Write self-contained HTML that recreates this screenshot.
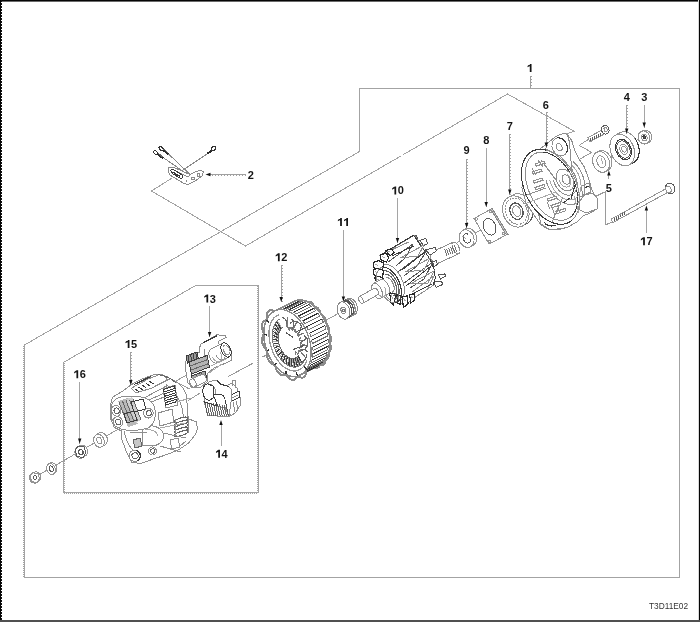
<!DOCTYPE html>
<html><head><meta charset="utf-8"><style>
html,body{margin:0;padding:0;background:#fff;}
body{width:700px;height:622px;overflow:hidden;position:relative;font-family:"Liberation Sans",sans-serif;}
svg{position:absolute;left:0;top:0;display:block;shape-rendering:crispEdges;will-change:transform;}
</style></head><body>
<svg width="700" height="622" viewBox="0 0 700 622">
<rect x="0" y="0" width="700" height="1" fill="#050505"/>
<rect x="0" y="1" width="700" height="1" fill="#6a6a6a"/>
<rect x="0" y="0" width="1" height="622" fill="#050505"/>
<line x1="1.5" y1="0" x2="1.5" y2="622" stroke="#111" stroke-width="1" stroke-dasharray="2 1"/>
<rect x="698" y="0" width="1" height="622" fill="#d8d8d8"/>
<rect x="699" y="0" width="1" height="622" fill="#050505"/>
<rect x="0" y="620" width="700" height="2" fill="#505050"/>
<path d="M359.5,151.5 L359.5,88.5 L679.5,88.5 L679.5,577.5 L24.5,577.5 L24.5,345 Z" fill="none" stroke="#a3a3a3" stroke-width="1" />
<line x1="23.5" y1="346" x2="23.5" y2="577" stroke="#a3a3a3" stroke-width="1" stroke-dasharray="1 1"/>
<path d="M63.5,362.5 L195.5,285.5 L258.5,285.5 L258.5,492.5 L63.5,492.5 Z" fill="none" stroke="#a3a3a3" stroke-width="1" />
<line x1="64.5" y1="363" x2="64.5" y2="492" stroke="#a3a3a3" stroke-width="1" stroke-dasharray="1 1"/>
<line x1="257.5" y1="286" x2="257.5" y2="492" stroke="#a3a3a3" stroke-width="1" stroke-dasharray="1 1"/>
<line x1="64" y1="493.5" x2="258" y2="493.5" stroke="#a3a3a3" stroke-width="1" stroke-dasharray="1 1"/>
<path d="M172,178 L151.5,191 L245.5,246 L400.5,156.2 M403.5,154.5 L507.5,94 L574.3,131.3 L561,135.5" fill="none" stroke="#a3a3a3" stroke-width="1" />
<line x1="30" y1="480" x2="122" y2="427" stroke="#9a9a9a" stroke-width="1" />
<line x1="228.2" y1="376.5" x2="253.3" y2="363" stroke="#9a9a9a" stroke-width="1" />
<line x1="262" y1="357.2" x2="274.5" y2="351.4" stroke="#9a9a9a" stroke-width="1" />
<line x1="326.7" y1="319.9" x2="339" y2="313.1" stroke="#9a9a9a" stroke-width="1" />
<line x1="457" y1="242.5" x2="462" y2="240" stroke="#9a9a9a" stroke-width="1" />
<line x1="475" y1="233" x2="481" y2="230" stroke="#9a9a9a" stroke-width="1" />
<line x1="610.9" y1="157.3" x2="617.7" y2="154.4" stroke="#9a9a9a" stroke-width="1" />
<line x1="637" y1="140" x2="640" y2="138.5" stroke="#9a9a9a" stroke-width="1" />
<line x1="580" y1="145.9" x2="591.4" y2="152.1" stroke="#9a9a9a" stroke-width="1" />
<line x1="580" y1="159" x2="592" y2="152.1" stroke="#9a9a9a" stroke-width="1" />
<line x1="595.3" y1="196.6" x2="605.7" y2="191.5" stroke="#9a9a9a" stroke-width="1" />
<line x1="186.6" y1="375" x2="175.4" y2="381.4" stroke="#9a9a9a" stroke-width="1" />
<line x1="175.4" y1="381.4" x2="189.6" y2="389.1" stroke="#9a9a9a" stroke-width="1" />
<line x1="188.3" y1="400.3" x2="200.3" y2="393" stroke="#9a9a9a" stroke-width="1" />
<line x1="588.4" y1="139.4" x2="578.8" y2="145.6" stroke="#9a9a9a" stroke-width="1" />
<line x1="605.7" y1="191.5" x2="605.7" y2="224.8" stroke="#9a9a9a" stroke-width="1" />
<line x1="605.7" y1="224.8" x2="613" y2="221.5" stroke="#9a9a9a" stroke-width="1" />
<path d="M638.08,136.88 L638.11,136.32 L638.18,135.77 L638.29,135.23 L638.45,134.71 L638.65,134.21 L638.89,133.73 L639.17,133.29 L639.49,132.87 L639.84,132.49 L640.22,132.15 L640.63,131.85 L641.07,131.59 L642.87,130.69 L643.33,130.48 L643.81,130.31 L644.3,130.2 L644.8,130.13 L645.32,130.11 L645.83,130.14 L646.35,130.21 L646.86,130.34 L647.36,130.52 L647.85,130.74 L648.33,131 L648.79,131.31 L649.22,131.66 L649.63,132.04 L650.01,132.47 L650.36,132.92 L650.67,133.4 L650.94,133.9 L651.18,134.43 L651.37,134.97 L651.52,135.52 L651.63,136.09 L651.7,136.65 L651.72,137.22 L651.69,137.78 L651.62,138.33 L651.51,138.87 L651.35,139.39 L651.15,139.89 L650.91,140.37 L650.63,140.81 L650.31,141.23 L649.96,141.61 L649.58,141.95 L649.17,142.25 L648.73,142.51 L646.93,143.41 L646.47,143.62 L645.99,143.78 L645.5,143.9 L645,143.97 L644.48,143.99 L643.97,143.96 L643.45,143.89 L642.94,143.76 L642.44,143.58 L641.95,143.36 L641.47,143.1 L641.01,142.79 L640.58,142.44 L640.17,142.06 L639.79,141.63 L639.45,141.18 L639.13,140.7 L638.86,140.2 L638.62,139.67 L638.43,139.13 L638.27,138.58 L638.17,138.01 L638.1,137.45 Z" fill="#fff" stroke="#949494" stroke-width="1"/>
<ellipse cx="644" cy="137.5" rx="6.6" ry="5.8" transform="rotate(68 644 137.5)" fill="#fff" stroke="#949494" stroke-width="1" />
<ellipse cx="644.2" cy="137.5" rx="3.4" ry="2.9" transform="rotate(68 644.2 137.5)" fill="#fff" stroke="#949494" stroke-width="1" />
<ellipse cx="644.3" cy="137.4" rx="1.6" ry="1.3" transform="rotate(68 644.3 137.4)" fill="#555" stroke="#3a3a3a" stroke-width="1" />
<path d="M609.91,146.16 L609.97,144.84 L610.11,143.56 L610.35,142.32 L610.68,141.15 L611.1,140.04 L611.6,139 L612.19,138.06 L612.85,137.2 L613.58,136.44 L614.38,135.78 L615.24,135.23 L619.74,132.83 L620.66,132.39 L621.62,132.07 L622.62,131.87 L623.65,131.79 L624.71,131.82 L625.78,131.98 L626.86,132.26 L627.94,132.65 L629.01,133.16 L630.06,133.78 L631.09,134.5 L632.09,135.32 L633.04,136.23 L633.95,137.24 L634.8,138.32 L635.6,139.47 L636.33,140.68 L636.98,141.95 L637.55,143.25 L638.05,144.6 L638.46,145.96 L638.78,147.34 L639.01,148.72 L639.14,150.09 L639.19,151.44 L639.13,152.76 L638.99,154.04 L638.75,155.28 L638.42,156.46 L638,157.56 L637.5,158.6 L636.91,159.54 L636.25,160.4 L635.52,161.16 L634.72,161.82 L633.86,162.37 L629.36,164.77 L628.44,165.21 L627.48,165.53 L626.48,165.73 L625.45,165.81 L624.39,165.78 L623.32,165.62 L622.24,165.34 L621.16,164.95 L620.09,164.44 L619.04,163.82 L618.01,163.1 L617.01,162.28 L616.06,161.37 L615.15,160.37 L614.29,159.28 L613.5,158.13 L612.77,156.92 L612.12,155.65 L611.54,154.34 L611.05,153 L610.64,151.64 L610.32,150.26 L610.09,148.88 L609.96,147.51 Z" fill="#fff" stroke="#949494" stroke-width="1"/>
<path d="M634.81,138.32 L636.03,140.17 L637.08,142.16 L637.93,144.26 L638.58,146.42 L638.99,148.6 L639.18,150.77 L639.13,152.87 L638.84,154.87 L638.32,156.74 L637.59,158.43 L636.65,159.91 L635.52,161.16 L634.22,162.15 L632.79,162.87 L631.24,163.29 L629.6,163.41 L627.91,163.24 L626.2,162.76 L624.5,161.99 L622.85,160.95 L621.27,159.66 L619.8,158.14 L618.46,156.41 L617.27,154.52" fill="none" stroke="#3a3a3a" stroke-width="1.1" />
<ellipse cx="622.3" cy="150" rx="16.4" ry="11.6" transform="rotate(68 622.3 150)" fill="#fff" stroke="#949494" stroke-width="1" />
<ellipse cx="623.5" cy="149.5" rx="10.6" ry="7.6" transform="rotate(68 623.5 149.5)" fill="#fff" stroke="#3a3a3a" stroke-width="1" />
<ellipse cx="623.5" cy="149.5" rx="9" ry="6.3" transform="rotate(68 623.5 149.5)" fill="#fff" stroke="#5a5a5a" stroke-width="1" />
<ellipse cx="623.8" cy="149.3" rx="5.2" ry="3.8" transform="rotate(68 623.8 149.3)" fill="#fff" stroke="#949494" stroke-width="1" />
<ellipse cx="624" cy="149.1" rx="3" ry="2.2" transform="rotate(68 624 149.1)" fill="#fff" stroke="#949494" stroke-width="1" />
<path d="M592.53,159.75 L592.59,158.88 L592.72,158.04 L592.92,157.22 L593.17,156.45 L593.49,155.71 L593.86,155.02 L594.29,154.39 L594.77,153.81 L595.3,153.3 L595.87,152.85 L596.48,152.48 L598.58,151.38 L599.23,151.07 L599.91,150.84 L600.61,150.69 L601.33,150.61 L602.07,150.61 L602.81,150.69 L603.56,150.85 L604.31,151.09 L605.04,151.4 L605.77,151.78 L606.47,152.23 L607.15,152.75 L607.8,153.33 L608.41,153.96 L608.99,154.65 L609.52,155.39 L610,156.17 L610.43,156.98 L610.8,157.83 L611.12,158.7 L611.38,159.58 L611.57,160.48 L611.7,161.38 L611.77,162.27 L611.77,163.15 L611.71,164.02 L611.58,164.86 L611.38,165.68 L611.13,166.45 L610.81,167.19 L610.44,167.88 L610.01,168.51 L609.53,169.09 L609,169.6 L608.43,170.04 L607.82,170.42 L605.72,171.52 L605.07,171.83 L604.39,172.06 L603.69,172.21 L602.97,172.29 L602.23,172.29 L601.49,172.21 L600.74,172.05 L599.99,171.81 L599.25,171.5 L598.53,171.12 L597.83,170.67 L597.15,170.15 L596.5,169.57 L595.89,168.94 L595.31,168.25 L594.78,167.51 L594.3,166.73 L593.87,165.92 L593.5,165.07 L593.18,164.2 L592.92,163.32 L592.73,162.42 L592.6,161.53 L592.53,160.63 Z" fill="#fff" stroke="#949494" stroke-width="1"/>
<ellipse cx="601.1" cy="162" rx="10.6" ry="8.2" transform="rotate(68 601.1 162)" fill="#fff" stroke="#949494" stroke-width="1" />
<ellipse cx="601.3" cy="161.8" rx="6.2" ry="4.2" transform="rotate(68 601.3 161.8)" fill="#fff" stroke="#949494" stroke-width="1" />
<line x1="601" y1="158" x2="603" y2="164" stroke="#949494" stroke-width="0.8" />
<path d="M590,141.8 L588,137.6 L602,130 L604.3,134 Z" fill="#fff" stroke="#949494" stroke-width="1" />
<line x1="590.5" y1="138.1" x2="590.9" y2="140.9" stroke="#5a5a5a" stroke-width="1" />
<line x1="592.5" y1="137.05" x2="592.9" y2="139.85" stroke="#5a5a5a" stroke-width="1" />
<line x1="594.5" y1="136" x2="594.9" y2="138.8" stroke="#5a5a5a" stroke-width="1" />
<line x1="596.5" y1="134.95" x2="596.9" y2="137.75" stroke="#5a5a5a" stroke-width="1" />
<line x1="598.5" y1="133.9" x2="598.9" y2="136.7" stroke="#5a5a5a" stroke-width="1" />
<line x1="600.5" y1="132.85" x2="600.9" y2="135.65" stroke="#5a5a5a" stroke-width="1" />
<ellipse cx="605.3" cy="129.8" rx="3.7" ry="4.3" transform="rotate(-20 605.3 129.8)" fill="#fff" stroke="#5a5a5a" stroke-width="1.1" />
<ellipse cx="605.6" cy="129.6" rx="1.6" ry="2" transform="rotate(-20 605.6 129.6)" fill="#fff" stroke="#949494" stroke-width="1" />
<path d="M612.8,222.6 L611.2,219.2 L666,188.6 L668,192.2 Z" fill="#fff" stroke="#949494" stroke-width="1" />
<line x1="614" y1="218.1" x2="614.5" y2="220.9" stroke="#5a5a5a" stroke-width="1" />
<line x1="616.1" y1="216.95" x2="616.6" y2="219.75" stroke="#5a5a5a" stroke-width="1" />
<line x1="618.2" y1="215.8" x2="618.7" y2="218.6" stroke="#5a5a5a" stroke-width="1" />
<line x1="620.3" y1="214.65" x2="620.8" y2="217.45" stroke="#5a5a5a" stroke-width="1" />
<line x1="622.4" y1="213.5" x2="622.9" y2="216.3" stroke="#5a5a5a" stroke-width="1" />
<line x1="624.5" y1="212.35" x2="625" y2="215.15" stroke="#5a5a5a" stroke-width="1" />
<ellipse cx="670.2" cy="188.4" rx="4.6" ry="5.4" transform="rotate(-25 670.2 188.4)" fill="#fff" stroke="#5a5a5a" stroke-width="1.1" />
<ellipse cx="668.5" cy="189.4" rx="2.6" ry="3.4" transform="rotate(-25 668.5 189.4)" fill="#fff" stroke="#949494" stroke-width="1" />
<path d="M502.51,209.58 L502.52,208.24 L502.64,206.92 L502.86,205.64 L503.17,204.4 L503.58,203.22 L504.08,202.1 L504.68,201.05 L505.35,200.08 L506.11,199.2 L506.94,198.41 L507.84,197.72 L508.8,197.14 L512.79,194.94 L513.81,194.47 L514.86,194.1 L515.96,193.86 L517.08,193.73 L518.23,193.72 L519.38,193.83 L520.54,194.06 L521.7,194.4 L522.84,194.85 L523.95,195.42 L525.04,196.09 L526.08,196.86 L527.08,197.73 L528.02,198.69 L528.9,199.72 L529.71,200.83 L530.45,202 L531.1,203.23 L531.67,204.5 L532.14,205.82 L532.53,207.15 L532.82,208.51 L533,209.87 L533.09,211.22 L533.08,212.56 L532.96,213.88 L532.74,215.16 L532.43,216.4 L532.02,217.58 L531.52,218.7 L530.92,219.75 L530.25,220.72 L529.49,221.6 L528.66,222.39 L527.76,223.08 L526.8,223.66 L522.8,225.86 L521.79,226.34 L520.74,226.7 L519.64,226.94 L518.52,227.07 L517.37,227.08 L516.22,226.97 L515.06,226.75 L513.9,226.4 L512.76,225.95 L511.65,225.38 L510.56,224.71 L509.52,223.94 L508.52,223.07 L507.58,222.12 L506.7,221.08 L505.89,219.97 L505.15,218.8 L504.5,217.57 L503.93,216.29 L503.45,214.98 L503.07,213.65 L502.79,212.29 L502.6,210.93 Z" fill="#fff" stroke="#949494" stroke-width="1"/>
<path d="M528.9,199.72 L530.15,201.51 L531.2,203.44 L532.03,205.49 L532.63,207.6 L532.99,209.75 L533.09,211.9 L532.95,213.99 L532.55,215.99 L531.9,217.87 L531.03,219.58 L529.94,221.1 L528.66,222.39 L527.21,223.43 L525.62,224.2 L523.92,224.69 L522.14,224.89 L520.31,224.79 L518.48,224.39 L516.67,223.7 L514.92,222.74 L513.26,221.53 L511.73,220.08 L510.35,218.43 L509.15,216.6" fill="none" stroke="#5a5a5a" stroke-width="1.1" />
<ellipse cx="515.8" cy="211.5" rx="16" ry="12.8" transform="rotate(68 515.8 211.5)" fill="#fff" stroke="#949494" stroke-width="1" />
<ellipse cx="516.3" cy="211.2" rx="13.5" ry="10.6" transform="rotate(68 516.3 211.2)" fill="#fff" stroke="#949494" stroke-width="1" stroke-dasharray="2 1"/>
<ellipse cx="516.5" cy="211.2" rx="8.4" ry="6.4" transform="rotate(68 516.5 211.2)" fill="#fff" stroke="#5a5a5a" stroke-width="1.3" />
<ellipse cx="516.7" cy="211" rx="5.4" ry="4" transform="rotate(68 516.7 211)" fill="#fff" stroke="#949494" stroke-width="1" />
<path d="M474,218.5 L490.7,209.2 L506.4,234.9 L489,244 Z" fill="#fff" stroke="#949494" stroke-width="1" />
<path d="M490.7,209.2 L492.2,208.6 L508,234.3 L506.4,234.9 Z" fill="#ccc" stroke="#888" stroke-width="1" />
<ellipse cx="489.6" cy="226.8" rx="8.6" ry="6" transform="rotate(68 489.6 226.8)" fill="#fff" stroke="#5a5a5a" stroke-width="1" />
<ellipse cx="476.5" cy="219" rx="1.1" ry="1.1" transform="rotate(0 476.5 219)" fill="#fff" stroke="#949494" stroke-width="1" />
<ellipse cx="490.5" cy="211.5" rx="1.1" ry="1.1" transform="rotate(0 490.5 211.5)" fill="#fff" stroke="#949494" stroke-width="1" />
<ellipse cx="503.5" cy="233.5" rx="1.1" ry="1.1" transform="rotate(0 503.5 233.5)" fill="#fff" stroke="#949494" stroke-width="1" />
<ellipse cx="489.5" cy="241.5" rx="1.1" ry="1.1" transform="rotate(0 489.5 241.5)" fill="#fff" stroke="#949494" stroke-width="1" />
<path d="M459.04,237.55 L459.05,236.8 L459.12,236.05 L459.25,235.33 L459.43,234.63 L459.67,233.97 L459.96,233.33 L460.3,232.74 L460.68,232.19 L461.12,231.69 L461.59,231.25 L462.1,230.86 L462.65,230.53 L465.05,229.12 L465.63,228.85 L466.23,228.65 L466.86,228.51 L467.5,228.43 L468.15,228.42 L468.81,228.48 L469.46,228.61 L470.12,228.8 L470.77,229.05 L471.4,229.37 L472.02,229.74 L472.61,230.17 L473.18,230.66 L473.71,231.19 L474.21,231.78 L474.67,232.4 L475.08,233.06 L475.45,233.75 L475.77,234.47 L476.04,235.2 L476.25,235.96 L476.41,236.72 L476.51,237.48 L476.56,238.25 L476.55,239 L476.48,239.75 L476.35,240.47 L476.17,241.17 L475.93,241.84 L475.64,242.47 L475.3,243.06 L474.92,243.61 L474.48,244.11 L474.01,244.55 L473.5,244.94 L472.95,245.28 L470.55,246.68 L469.97,246.94 L469.37,247.15 L468.75,247.29 L468.11,247.37 L467.45,247.38 L466.8,247.32 L466.14,247.19 L465.48,247 L464.83,246.75 L464.2,246.43 L463.58,246.06 L462.99,245.63 L462.42,245.14 L461.89,244.6 L461.39,244.02 L460.94,243.4 L460.52,242.74 L460.15,242.05 L459.83,241.34 L459.56,240.6 L459.35,239.84 L459.19,239.08 L459.09,238.32 Z" fill="#fff" stroke="#949494" stroke-width="1"/>
<ellipse cx="466.6" cy="238.6" rx="9" ry="7.3" transform="rotate(68 466.6 238.6)" fill="#fff" stroke="#949494" stroke-width="1" />
<path d="M470.79,239.46 L470.68,240.38 L470.41,241.22 L469.99,241.93 L469.44,242.49 L468.77,242.86 L468.03,243.04 L467.25,243.01 L466.45,242.78 L465.68,242.35 L464.96,241.75 L464.34,241 L463.83,240.13 L463.47,239.19 L463.26,238.21 L463.21,237.24 L463.34,236.33 L463.63,235.5 L464.06,234.8 L464.63,234.27 L465.3,233.91 L466.05,233.76 L466.84,233.81 L467.63,234.06 L468.4,234.51" fill="none" stroke="#5a5a5a" stroke-width="1" />
<line x1="462" y1="236" x2="466" y2="238.5" stroke="#949494" stroke-width="0.8" />
<path d="M29.51,477.52 L29.53,477.08 L29.59,476.65 L29.68,476.22 L29.81,475.81 L29.97,475.41 L30.16,475.04 L30.38,474.69 L30.63,474.36 L30.91,474.06 L31.21,473.79 L31.54,473.55 L31.89,473.35 L33.69,472.35 L34.05,472.18 L34.43,472.05 L34.82,471.95 L35.22,471.9 L35.63,471.88 L36.04,471.9 L36.45,471.96 L36.85,472.06 L37.25,472.2 L37.64,472.37 L38.02,472.58 L38.38,472.82 L38.72,473.1 L39.04,473.4 L39.34,473.73 L39.62,474.09 L39.86,474.47 L40.08,474.86 L40.27,475.28 L40.42,475.7 L40.54,476.14 L40.62,476.58 L40.67,477.03 L40.69,477.48 L40.67,477.92 L40.61,478.35 L40.52,478.78 L40.39,479.19 L40.23,479.59 L40.04,479.96 L39.82,480.31 L39.57,480.64 L39.29,480.94 L38.98,481.21 L38.66,481.45 L38.31,481.65 L36.51,482.65 L36.15,482.82 L35.77,482.95 L35.38,483.05 L34.98,483.1 L34.57,483.12 L34.16,483.1 L33.75,483.04 L33.35,482.94 L32.95,482.8 L32.56,482.63 L32.19,482.42 L31.82,482.18 L31.48,481.9 L31.16,481.6 L30.86,481.27 L30.58,480.91 L30.34,480.53 L30.12,480.14 L29.93,479.72 L29.78,479.3 L29.66,478.86 L29.58,478.42 L29.53,477.97 Z" fill="#fff" stroke="#949494" stroke-width="1"/>
<path d="M30,475.5 L33,472.8 L38,473.5 L39.5,479 L36.5,482.5 L31.5,481.5 Z" fill="#fff" stroke="#949494" stroke-width="1" />
<ellipse cx="35" cy="477.6" rx="2" ry="1.7" transform="rotate(68 35 477.6)" fill="#fff" stroke="#5a5a5a" stroke-width="1" />
<path d="M46.58,467.77 L46.61,467.31 L46.67,466.87 L46.76,466.44 L46.89,466.03 L47.05,465.65 L47.24,465.29 L47.45,464.96 L47.7,464.66 L47.97,464.39 L48.26,464.16 L49.76,463.16 L50.07,462.96 L50.4,462.81 L50.75,462.69 L51.11,462.61 L51.48,462.58 L51.86,462.58 L52.24,462.63 L52.63,462.72 L53.02,462.84 L53.4,463.01 L53.77,463.22 L54.13,463.46 L54.49,463.73 L54.82,464.04 L55.14,464.38 L55.44,464.75 L55.72,465.14 L55.97,465.55 L56.2,465.98 L56.39,466.43 L56.56,466.88 L56.7,467.35 L56.8,467.82 L56.88,468.3 L56.92,468.77 L56.92,469.23 L56.89,469.69 L56.83,470.13 L56.74,470.56 L56.61,470.97 L56.45,471.35 L56.26,471.71 L56.05,472.04 L55.8,472.34 L55.53,472.61 L55.24,472.84 L53.74,473.84 L53.43,474.04 L53.1,474.19 L52.75,474.31 L52.39,474.39 L52.02,474.42 L51.64,474.42 L51.26,474.37 L50.87,474.28 L50.48,474.16 L50.1,473.99 L49.73,473.78 L49.37,473.54 L49.01,473.27 L48.68,472.96 L48.36,472.62 L48.06,472.25 L47.78,471.86 L47.53,471.45 L47.3,471.02 L47.11,470.57 L46.94,470.12 L46.8,469.65 L46.7,469.18 L46.62,468.7 L46.58,468.23 Z" fill="#fff" stroke="#949494" stroke-width="1"/>
<ellipse cx="51" cy="469" rx="5.6" ry="4.2" transform="rotate(68 51 469)" fill="#fff" stroke="#949494" stroke-width="1" />
<ellipse cx="51.3" cy="468.8" rx="3" ry="2" transform="rotate(68 51.3 468.8)" fill="#fff" stroke="#5a5a5a" stroke-width="1" />
<path d="M74.88,451.93 L74.9,451.43 L74.96,450.95 L75.05,450.48 L75.19,450.02 L75.36,449.58 L75.56,449.17 L75.8,448.78 L76.07,448.42 L76.37,448.09 L76.7,447.79 L77.06,447.53 L79.56,446.03 L79.93,445.81 L80.33,445.62 L80.74,445.48 L81.17,445.38 L81.6,445.32 L82.04,445.31 L82.49,445.33 L82.94,445.41 L83.38,445.52 L83.82,445.68 L84.24,445.87 L84.66,446.11 L85.05,446.38 L85.43,446.69 L85.78,447.03 L86.11,447.4 L86.42,447.8 L86.69,448.22 L86.93,448.67 L87.14,449.13 L87.31,449.6 L87.44,450.09 L87.54,450.58 L87.6,451.08 L87.62,451.57 L87.6,452.07 L87.54,452.55 L87.45,453.02 L87.31,453.48 L87.14,453.92 L86.94,454.33 L86.7,454.72 L86.43,455.08 L86.13,455.41 L85.8,455.71 L85.44,455.97 L82.94,457.47 L82.57,457.69 L82.17,457.88 L81.76,458.02 L81.33,458.12 L80.9,458.18 L80.46,458.19 L80.01,458.17 L79.56,458.09 L79.12,457.98 L78.68,457.82 L78.26,457.63 L77.84,457.39 L77.45,457.12 L77.07,456.81 L76.72,456.47 L76.39,456.1 L76.08,455.7 L75.81,455.28 L75.57,454.83 L75.36,454.37 L75.19,453.9 L75.06,453.41 L74.96,452.92 L74.9,452.42 Z" fill="#fff" stroke="#949494" stroke-width="1"/>
<path d="M75,450 L78,446.5 L84,447 L86,452.8 L83,457.5 L77,456.6 Z" fill="#fff" stroke="#5a5a5a" stroke-width="1" />
<ellipse cx="80.8" cy="452" rx="2.6" ry="2.2" transform="rotate(68 80.8 452)" fill="#fff" stroke="#5a5a5a" stroke-width="1.2" />
<path d="M93.58,439.98 L93.59,439.43 L93.63,438.89 L93.72,438.36 L93.84,437.85 L94.01,437.36 L94.21,436.9 L94.45,436.47 L94.72,436.08 L95.03,435.72 L95.36,435.39 L95.73,435.11 L96.12,434.87 L99.12,433.07 L99.53,432.88 L99.96,432.73 L100.4,432.63 L100.86,432.58 L101.33,432.58 L101.8,432.63 L102.27,432.73 L102.74,432.87 L103.2,433.06 L103.66,433.3 L104.1,433.57 L104.53,433.89 L104.94,434.25 L105.33,434.65 L105.69,435.08 L106.02,435.54 L106.32,436.02 L106.59,436.53 L106.82,437.05 L107.02,437.59 L107.18,438.14 L107.3,438.7 L107.38,439.26 L107.42,439.82 L107.41,440.37 L107.37,440.91 L107.28,441.44 L107.16,441.95 L106.99,442.44 L106.79,442.89 L106.55,443.33 L106.28,443.72 L105.97,444.08 L105.64,444.41 L105.27,444.69 L104.88,444.93 L101.88,446.73 L101.47,446.92 L101.04,447.07 L100.6,447.17 L100.14,447.21 L99.67,447.22 L99.2,447.17 L98.73,447.07 L98.26,446.93 L97.8,446.74 L97.34,446.5 L96.9,446.23 L96.47,445.91 L96.06,445.55 L95.67,445.15 L95.31,444.72 L94.98,444.26 L94.68,443.78 L94.41,443.27 L94.18,442.75 L93.98,442.21 L93.82,441.66 L93.7,441.1 L93.62,440.54 Z" fill="#fff" stroke="#949494" stroke-width="1"/>
<ellipse cx="99" cy="440.8" rx="6.6" ry="5.2" transform="rotate(68 99 440.8)" fill="#fff" stroke="#949494" stroke-width="1" />
<ellipse cx="99.3" cy="440.6" rx="3.4" ry="2.4" transform="rotate(68 99.3 440.6)" fill="#fff" stroke="#949494" stroke-width="1" />
<path d="M545,145 L555.7,136.6 L563.7,133.1 L567.1,134.3 L571.7,140.6 L575.1,150.9 L579.7,160 L584.3,166.9 L587.7,176 L592.3,190.9 L596,197 L597,209 L590,213 L583,216 L577,222 L568,227 L561,229 L550,230 L541,225 L534,215 L526,203 L522,188 L522.5,173.7 L527,162 L535,153 Z" fill="#fff" stroke="#8e8e8e" stroke-width="1" />
<path d="M579.7,196.6 L592,193 L597,198 L597,209 L586,213 L580,210 Z" fill="#fff" stroke="#8e8e8e" stroke-width="1" />
<path d="M581,186 L589,183 L591,192 L583,195 Z" fill="#fff" stroke="#8e8e8e" stroke-width="1" />
<path d="M584,188 L589,186" fill="none" stroke="#3c3c3c" stroke-width="1.2" />
<path d="M538.6,213.7 L540.9,224 L550,229.7 L561.4,228.6" fill="none" stroke="#8e8e8e" stroke-width="1" />
<path d="M544,222 C546,226 552,227 556,225" fill="none" stroke="#3c3c3c" stroke-width="1.1" />
<ellipse cx="550.5" cy="186.8" rx="40" ry="25.5" transform="rotate(63 550.5 186.8)" fill="#fff" stroke="none" stroke-width="1" />
<path d="M572.33,219.89 L570.39,221.42 L568.26,222.64 L565.97,223.52 L563.54,224.07 L560.99,224.27 L558.34,224.13 L555.62,223.65 L552.85,222.82 L550.06,221.66 L547.27,220.19 L544.52,218.4 L541.82,216.33 L539.2,213.98 L536.68,211.38 L534.29,208.56 L532.05,205.53 L529.98,202.34 L528.1,199 L526.42,195.54 L524.97,192.01 L523.75,188.43 L522.78,184.84 L522.06,181.26 L521.61,177.73 L521.42,174.29 L521.5,170.96 L521.84,167.78 L522.45,164.77 L523.32,161.97 L524.44,159.39 L525.8,157.07 L527.38,155.02 L529.18,153.26 L531.18,151.81 L533.35,150.69 L535.68,149.9 L538.15,149.44 L540.73,149.33 L543.4,149.57 L546.13,150.15" fill="none" stroke="#3c3c3c" stroke-width="1.1" />
<path d="M546.13,150.15 L548.49,150.9 L550.86,151.9 L553.22,153.12 L555.57,154.57 L557.88,156.23 L560.15,158.1 L562.35,160.15 L564.47,162.38 L566.5,164.78 L568.42,167.32 L570.22,169.98 L571.9,172.77 L573.43,175.64 L574.81,178.59 L576.03,181.59 L577.08,184.62 L577.95,187.68 L578.64,190.72 L579.15,193.74 L579.46,196.71 L579.58,199.62 L579.51,202.44 L579.25,205.16 L578.8,207.76 L578.16,210.22 L577.33,212.52 L576.33,214.65 L575.16,216.6 L573.82,218.35 L572.33,219.89" fill="none" stroke="#8e8e8e" stroke-width="1" />
<path d="M571.33,216.44 L569.69,217.76 L567.89,218.81 L565.96,219.59 L563.91,220.09 L561.75,220.31 L559.5,220.24 L557.19,219.88 L554.83,219.24 L552.45,218.33 L550.05,217.14 L547.67,215.69 L545.32,214 L543.02,212.08 L540.79,209.93 L538.66,207.59 L536.63,205.07 L534.72,202.39 L532.96,199.58 L531.35,196.65 L529.91,193.63 L528.65,190.55 L527.58,187.44 L526.72,184.31 L526.06,181.21 L525.61,178.14 L525.38,175.14 L525.38,172.23 L525.59,169.44 L526.02,166.79 L526.66,164.31 L527.51,162.01 L528.56,159.91 L529.8,158.03 L531.23,156.39 L532.83,154.99 L534.58,153.86 L536.47,153 L538.49,152.42 L540.62,152.13 L542.85,152.11" fill="none" stroke="#8e8e8e" stroke-width="1" />
<path d="M542.85,152.11 L545.03,152.37 L547.26,152.88 L549.53,153.65 L551.81,154.66 L554.08,155.92 L556.34,157.4 L558.56,159.1 L560.73,161.01 L562.83,163.12 L564.84,165.39 L566.75,167.83 L568.54,170.4 L570.2,173.1 L571.73,175.89 L573.09,178.77 L574.3,181.7 L575.33,184.66 L576.17,187.64 L576.83,190.6 L577.3,193.54 L577.57,196.41 L577.65,199.21 L577.52,201.91 L577.19,204.49 L576.67,206.93 L575.96,209.21 L575.07,211.32 L573.99,213.24 L572.74,214.95 L571.33,216.44" fill="none" stroke="#3c3c3c" stroke-width="1" />
<path d="M572.99,161.34 L575.35,163.64 L577.53,166.23 L579.48,169.07 L581.17,172.1 L582.58,175.27 L583.67,178.53 L584.43,181.81 L584.84,185.07 L584.89,188.23 L584.59,191.24 L583.94,194.06 L582.95,196.62 L581.64,198.88 L580.03,200.81 L578.16,202.37 L576.04,203.52 L573.74,204.26 L571.27,204.56 L568.69,204.42 L566.05,203.85 L563.39,202.84 L560.75,201.44 L558.2,199.64 L555.76,197.5 L553.49,195.04 L551.42,192.32 L549.6,189.37 L548.05,186.26 L546.81,183.03 L545.89,179.76" fill="none" stroke="#8e8e8e" stroke-width="1" />
<path d="M571.42,164.94 L573.33,166.8 L575.08,168.89 L576.66,171.19 L578.03,173.64 L579.16,176.2 L580.05,178.83 L580.66,181.48 L580.99,184.11 L581.04,186.66 L580.8,189.09 L580.28,191.36 L579.48,193.43 L578.43,195.26 L577.13,196.81 L575.62,198.07 L573.92,199 L572.06,199.59 L570.07,199.83 L568,199.72 L565.87,199.25 L563.72,198.44 L561.6,197.3 L559.53,195.85 L557.57,194.12 L555.73,192.13 L554.07,189.93 L552.6,187.55 L551.35,185.04 L550.34,182.43 L549.6,179.79" fill="none" stroke="#a8a8a8" stroke-width="1" />
<path d="M569.86,168.55 L571.31,169.96 L572.64,171.56 L573.84,173.31 L574.88,175.17 L575.75,177.12 L576.42,179.13 L576.89,181.15 L577.15,183.15 L577.19,185.09 L577.01,186.94 L576.62,188.67 L576.01,190.24 L575.22,191.63 L574.24,192.81 L573.09,193.77 L571.8,194.47 L570.39,194.92 L568.88,195.1 L567.3,195.01 L565.68,194.65 L564.05,194.04 L562.44,193.17 L560.87,192.06 L559.38,190.74 L557.98,189.22 L556.71,187.55 L555.59,185.73 L554.64,183.82 L553.87,181.83 L553.31,179.82" fill="none" stroke="#8e8e8e" stroke-width="1" />
<path d="M568.56,171.73 L569.61,172.75 L570.57,173.89 L571.44,175.15 L572.19,176.49 L572.81,177.89 L573.29,179.33 L573.62,180.79 L573.8,182.23 L573.83,183.63 L573.69,184.96 L573.4,186.21 L572.96,187.34 L572.37,188.35 L571.66,189.2 L570.82,189.89 L569.88,190.4 L568.86,190.73 L567.76,190.87 L566.62,190.81 L565.45,190.56 L564.26,190.12 L563.1,189.49 L561.96,188.7 L560.88,187.76 L559.88,186.67 L558.96,185.47 L558.15,184.16 L557.47,182.79 L556.92,181.36 L556.52,179.91" fill="none" stroke="#8e8e8e" stroke-width="1" />
<path d="M567.46,174.54 L568.16,175.19 L568.79,175.94 L569.36,176.75 L569.85,177.63 L570.25,178.54 L570.56,179.49 L570.77,180.44 L570.88,181.38 L570.88,182.3 L570.78,183.18 L570.57,184 L570.27,184.75 L569.86,185.41 L569.38,185.98 L568.81,186.44 L568.18,186.79 L567.49,187.01 L566.75,187.11 L565.98,187.09 L565.2,186.93 L564.41,186.65 L563.64,186.25 L562.88,185.74 L562.17,185.13 L561.5,184.43 L560.9,183.65 L560.37,182.8 L559.93,181.9 L559.57,180.97 L559.31,180.02" fill="none" stroke="#a8a8a8" stroke-width="1" />
<path d="M556.52,179.91 L556.32,178.88 L556.2,177.87 L556.16,176.87 L556.2,175.9 L556.32,174.97 L556.52,174.08 L556.79,173.25 L557.14,172.47 L557.55,171.77 L558.03,171.13 L558.58,170.58 L559.18,170.11 L559.83,169.73 L560.53,169.44 L561.27,169.24 L562.04,169.14 L562.84,169.14 L563.66,169.23 L564.49,169.42 L565.33,169.71 L566.16,170.09 L566.98,170.55 L567.78,171.1 L568.56,171.73" fill="none" stroke="#8e8e8e" stroke-width="1" />
<path d="M568.27,183.96 L567.36,184.23 L566.36,184.18 L565.34,183.81 L564.36,183.14 L563.49,182.23 L562.79,181.13 L562.31,179.93 L562.09,178.69 L562.13,177.51 L562.43,176.46 L562.98,175.62 L563.73,175.04 L564.64,174.77 L565.64,174.82 L566.66,175.19 L567.64,175.86 L568.51,176.77 L569.21,177.87 L569.69,179.07 L569.91,180.31 L569.87,181.49 L569.57,182.54 L569.02,183.38 L568.27,183.96" fill="none" stroke="#8e8e8e" stroke-width="1" />
<line x1="524" y1="196" x2="546" y2="188" stroke="#8e8e8e" stroke-width="1" />
<line x1="527" y1="203" x2="556" y2="192" stroke="#a8a8a8" stroke-width="1" />
<line x1="541" y1="160" x2="556" y2="180" stroke="#8e8e8e" stroke-width="1" />
<line x1="563" y1="197" x2="552" y2="222" stroke="#8e8e8e" stroke-width="1" />
<line x1="574" y1="196" x2="579" y2="213" stroke="#a8a8a8" stroke-width="1" />
<path d="M547,199 l9,-3 l1,2.2 l-9,3 z" fill="#fff" stroke="#8e8e8e" stroke-width="1" />
<path d="M551,205.5 l9,-3 l1,2.2 l-9,3 z" fill="#fff" stroke="#8e8e8e" stroke-width="1" />
<path d="M556,211.5 l9,-3 l1,2.2 l-9,3 z" fill="#fff" stroke="#8e8e8e" stroke-width="1" />
<path d="M533,181 l9,-3 l1,2.2 l-9,3 z" fill="#fff" stroke="#8e8e8e" stroke-width="1" />
<path d="M535,187.5 l9,-3 l1,2.2 l-9,3 z" fill="#fff" stroke="#8e8e8e" stroke-width="1" />
<path d="M535,164 l9,-3 l1,2.2 l-9,3 z" fill="#fff" stroke="#8e8e8e" stroke-width="1" />
<path d="M532,172 l9,-3 l1,2.2 l-9,3 z" fill="#fff" stroke="#8e8e8e" stroke-width="1" />
<path d="M547,202 L550,209 M552,208 L555,215 M557,205 L560,212" fill="none" stroke="#8e8e8e" stroke-width="1" />
<path d="M532,168 L536,175 M538,160 L543,167" fill="none" stroke="#8e8e8e" stroke-width="1" />
<line x1="575" y1="185" x2="571" y2="199" stroke="#3c3c3c" stroke-width="1.2" />
<line x1="570" y1="198" x2="563" y2="203" stroke="#3c3c3c" stroke-width="1" />
<path d="M567.1,134.3 L569.4,141.7 L570.6,156.6 L571.7,169.1" fill="none" stroke="#8e8e8e" stroke-width="1" />
<path d="M545.4,148.6 L560,156 L572.9,170.3" fill="none" stroke="#8e8e8e" stroke-width="1" />
<ellipse cx="559.7" cy="146.9" rx="7.4" ry="9.4" transform="rotate(-25 559.7 146.9)" fill="#fff" stroke="#8e8e8e" stroke-width="1" />
<path d="M556.95,137.97 L557.71,137.85 L558.48,137.83 L559.27,137.9 L560.07,138.06 L560.86,138.32 L561.63,138.66 L562.39,139.09 L563.12,139.61 L563.81,140.19 L564.47,140.85 L565.07,141.57 L565.61,142.34 L566.1,143.16 L566.52,144.02 L566.87,144.91 L567.14,145.82 L567.34,146.74 L567.46,147.67 L567.49,148.58 L567.45,149.48 L567.33,150.35 L567.13,151.19 L566.85,151.98 L566.49,152.71" fill="none" stroke="#3c3c3c" stroke-width="1.2" />
<ellipse cx="559.2" cy="147.2" rx="2.8" ry="3.8" transform="rotate(-25 559.2 147.2)" fill="#fff" stroke="#8e8e8e" stroke-width="1" />
<path d="M430.17,254.79 L430.18,254.37 L430.23,253.98 L430.3,253.61 L430.4,253.28 L430.53,252.98 L430.68,252.72 L430.86,252.51 L431.07,252.33 L431.3,252.2 L453.3,242.2 L453.54,242.11 L453.81,242.07 L454.09,242.07 L454.39,242.12 L454.7,242.21 L455.02,242.34 L455.34,242.52 L455.68,242.74 L456.01,243 L456.34,243.3 L456.68,243.63 L457,244 L457.32,244.4 L457.63,244.82 L457.93,245.27 L458.21,245.74 L458.47,246.23 L458.72,246.73 L458.94,247.24 L459.15,247.76 L459.33,248.28 L459.48,248.79 L459.61,249.3 L459.71,249.8 L459.78,250.29 L459.82,250.76 L459.83,251.21 L459.82,251.63 L459.77,252.02 L459.7,252.39 L459.6,252.72 L459.47,253.02 L459.32,253.28 L459.14,253.49 L458.93,253.67 L458.7,253.8 L436.7,263.8 L436.46,263.89 L436.19,263.93 L435.91,263.93 L435.61,263.88 L435.3,263.79 L434.98,263.66 L434.66,263.48 L434.32,263.26 L433.99,263 L433.66,262.7 L433.32,262.37 L433,262 L432.68,261.6 L432.37,261.18 L432.07,260.73 L431.79,260.26 L431.53,259.77 L431.28,259.27 L431.06,258.76 L430.85,258.24 L430.67,257.72 L430.52,257.21 L430.39,256.7 L430.29,256.2 L430.22,255.71 L430.18,255.24 Z" fill="#fff" stroke="#8e8e8e" stroke-width="1"/>
<ellipse cx="456" cy="248" rx="6.4" ry="3" transform="rotate(65 456 248)" fill="#fff" stroke="#8e8e8e" stroke-width="1" />
<line x1="444.8" y1="249.4" x2="447.2" y2="256.2" stroke="#666" stroke-width="0.9" />
<line x1="446.7" y1="248.5" x2="449.1" y2="255.3" stroke="#666" stroke-width="0.9" />
<line x1="448.6" y1="247.6" x2="451" y2="254.4" stroke="#666" stroke-width="0.9" />
<line x1="450.5" y1="246.7" x2="452.9" y2="253.5" stroke="#666" stroke-width="0.9" />
<line x1="452.4" y1="245.8" x2="454.8" y2="252.6" stroke="#666" stroke-width="0.9" />
<line x1="454.3" y1="244.9" x2="456.7" y2="251.7" stroke="#666" stroke-width="0.9" />
<path d="M413.4,236.3 L416.5,235.2 L418.6,241.5 Z" fill="#fff" stroke="#555" stroke-width="1" />
<path d="M419.6,240.5 L425.9,238.4 L427.5,243.6 L423.8,245.7 Z" fill="#fff" stroke="#555" stroke-width="1" />
<path d="M425.9,249.9 L435.3,247.3 L436.4,250.9 L430.1,255.1 Z" fill="#fff" stroke="#555" stroke-width="1" />
<path d="M432.2,261.4 L436.4,260.8 L437.4,264.5 L434.3,266.6 Z" fill="#fff" stroke="#555" stroke-width="1" />
<path d="M438.5,275 L444.7,273.9 L445.8,276 L440.5,279.1 Z" fill="#fff" stroke="#555" stroke-width="1" />
<path d="M433.2,282.3 L441.6,281.2 L442.6,284.4 L436.4,287.5 Z" fill="#fff" stroke="#555" stroke-width="1" />
<path d="M380,255.6 L414.3,235.2 L418,240 L423.8,249.9 L430.1,259.3 L434.3,269.7 L435.3,278.1 L433.2,285.4 L413.9,298.1 L405,305 L392,300 Z" fill="#fff" stroke="#8e8e8e" stroke-width="1" />
<line x1="380.5" y1="255" x2="414" y2="235" stroke="#3c3c3c" stroke-width="1.1" />
<line x1="390" y1="250.6" x2="408.6" y2="242" stroke="#8e8e8e" stroke-width="1" />
<path d="M414.4,236.3 L423.8,249.9 L430.1,259.3 L434.3,269.7 L435.3,278.1 L433.2,285.4" fill="none" stroke="#3c3c3c" stroke-width="1" />
<path d="M388,262 L413,244 L405,258 L396,266" fill="none" stroke="#555" stroke-width="1" />
<path d="M392,256 L414,246" fill="none" stroke="#3c3c3c" stroke-width="1" />
<path d="M398,272 L427,250 L417,266 L404,276" fill="none" stroke="#555" stroke-width="1" />
<path d="M402,270 L425,252" fill="none" stroke="#3c3c3c" stroke-width="1" />
<path d="M404,283 L433,262 L424,279 L410,288" fill="none" stroke="#555" stroke-width="1" />
<path d="M406,286 L431,266" fill="none" stroke="#3c3c3c" stroke-width="1" />
<path d="M412,292 L434,276 L427,290" fill="none" stroke="#8e8e8e" stroke-width="1" />
<path d="M424,245 L400,258 L418,256 Z" fill="none" stroke="#8e8e8e" stroke-width="1" />
<path d="M430,258 L405,272 L424,270 Z" fill="none" stroke="#8e8e8e" stroke-width="1" />
<path d="M434,271 L410,284 L428,283 Z" fill="none" stroke="#8e8e8e" stroke-width="1" />
<path d="M414,293 L432,284" fill="none" stroke="#3c3c3c" stroke-width="1" />
<ellipse cx="391" cy="283" rx="20" ry="11.5" transform="rotate(65 391 283)" fill="#fff" stroke="#8e8e8e" stroke-width="1" />
<path d="M380.4,255.1 L386.2,253.2 L388.8,257.6 L386.5,262 L381.1,260 Z" fill="#fff" stroke="#2a2a2a" stroke-width="1.2" />
<line x1="381.9" y1="256.6" x2="384.6" y2="257.58" stroke="#a8a8a8" stroke-width="1" />
<path d="M373.4,262.5 L378.5,260.5 L383.4,263 L382.7,270 L377.5,270.5 L373.4,267 Z" fill="#fff" stroke="#2a2a2a" stroke-width="1.2" />
<line x1="374.9" y1="264" x2="378.15" y2="265.58" stroke="#a8a8a8" stroke-width="1" />
<path d="M373.4,269.7 L377.3,268.2 L383.4,270.5 L382.7,277.4 L378,278.2 L373.4,273.6 Z" fill="#fff" stroke="#2a2a2a" stroke-width="1.2" />
<line x1="374.9" y1="271.2" x2="378.03" y2="272.93" stroke="#a8a8a8" stroke-width="1" />
<path d="M374.5,277.5 L379,276 L383.5,279 L382,284 L377,283.5 Z" fill="#fff" stroke="#2a2a2a" stroke-width="1.2" />
<line x1="376" y1="279" x2="379.2" y2="280" stroke="#a8a8a8" stroke-width="1" />
<path d="M389.6,292.9 L395.8,294.4 L393.5,305.2 L391.1,302.9 Z" fill="#fff" stroke="#2a2a2a" stroke-width="1.2" />
<line x1="391.1" y1="294.4" x2="392.5" y2="298.85" stroke="#a8a8a8" stroke-width="1" />
<path d="M397,295 L401,295.5 L400.5,304.5 L397.5,303 Z" fill="#fff" stroke="#2a2a2a" stroke-width="1.2" />
<line x1="398.5" y1="296.5" x2="399" y2="299.5" stroke="#a8a8a8" stroke-width="1" />
<path d="M402,296.7 L407.4,296 L408.1,303.7 L403.5,307.5 Z" fill="#fff" stroke="#2a2a2a" stroke-width="1.2" />
<line x1="403.5" y1="298.2" x2="405.25" y2="300.98" stroke="#a8a8a8" stroke-width="1" />
<path d="M409.5,295 L414,293.5 L414.5,300 L411,303 Z" fill="#fff" stroke="#2a2a2a" stroke-width="1.2" />
<line x1="411" y1="296.5" x2="412.25" y2="297.88" stroke="#a8a8a8" stroke-width="1" />
<path d="M386,250.5 L391.5,248.8 L394,252.5 L390,256 Z" fill="#fff" stroke="#2a2a2a" stroke-width="1.2" />
<line x1="387.5" y1="252" x2="390.38" y2="251.95" stroke="#a8a8a8" stroke-width="1" />
<path d="M382.74,267.27 L383.9,267.22 L385.12,267.37 L386.38,267.71 L387.66,268.24 L388.97,268.96 L390.27,269.85 L391.56,270.9 L392.82,272.11 L394.03,273.46 L395.2,274.94 L396.29,276.53 L397.31,278.21 L398.23,279.96 L399.05,281.77 L399.77,283.62 L400.36,285.48 L400.83,287.34 L401.17,289.17 L401.38,290.95 L401.45,292.67 L401.39,294.3 L401.19,295.84 L400.85,297.25 L400.39,298.53 L399.8,299.66 L399.09,300.63 L398.28,301.43 L397.36,302.05 L396.35,302.49 L395.26,302.73" fill="none" stroke="#3c3c3c" stroke-width="1.2" />
<path d="M383.93,270.63 L384.87,270.59 L385.85,270.71 L386.87,270.99 L387.91,271.42 L388.97,272 L390.02,272.72 L391.06,273.58 L392.08,274.56 L393.07,275.65 L394.01,276.85 L394.9,278.14 L395.72,279.5 L396.47,280.92 L397.14,282.39 L397.72,283.89 L398.2,285.39 L398.58,286.9 L398.86,288.38 L399.03,289.83 L399.08,291.22 L399.03,292.54 L398.87,293.79 L398.6,294.93 L398.23,295.97 L397.75,296.89 L397.18,297.67 L396.52,298.32 L395.77,298.82 L394.96,299.17 L394.07,299.37" fill="none" stroke="#666" stroke-width="1.2" />
<path d="M385.18,274.18 L385.89,274.15 L386.63,274.24 L387.39,274.45 L388.18,274.77 L388.97,275.21 L389.77,275.75 L390.55,276.4 L391.32,277.14 L392.06,277.96 L392.77,278.86 L393.44,279.83 L394.06,280.86 L394.63,281.93 L395.13,283.04 L395.56,284.16 L395.93,285.3 L396.21,286.43 L396.42,287.55 L396.55,288.64 L396.59,289.69 L396.56,290.68 L396.43,291.62 L396.23,292.48 L395.95,293.26 L395.59,293.95 L395.16,294.55 L394.66,295.03 L394.1,295.41 L393.49,295.68 L392.82,295.82" fill="none" stroke="#666" stroke-width="1.2" />
<path d="M386.36,277.54 L386.85,277.52 L387.36,277.58 L387.89,277.73 L388.43,277.95 L388.97,278.25 L389.52,278.63 L390.06,279.07 L390.59,279.58 L391.1,280.15 L391.59,280.77 L392.05,281.44 L392.48,282.15 L392.87,282.89 L393.21,283.65 L393.51,284.43 L393.77,285.21 L393.96,285.99 L394.11,286.76 L394.2,287.51 L394.23,288.24 L394.2,288.92 L394.12,289.57 L393.98,290.16 L393.79,290.7 L393.54,291.18 L393.25,291.59 L392.9,291.92 L392.52,292.18 L392.09,292.36 L391.64,292.46" fill="none" stroke="#8e8e8e" stroke-width="1.2" />
<path d="M395.26,302.73 L394.1,302.78 L392.88,302.63 L391.62,302.29 L390.34,301.76 L389.03,301.04 L387.73,300.15 L386.44,299.1 L385.18,297.89 L383.97,296.54 L382.8,295.06 L381.71,293.47 L380.69,291.79 L379.77,290.04 L378.95,288.23 L378.23,286.38 L377.64,284.52 L377.17,282.66 L376.83,280.83 L376.62,279.05 L376.55,277.33 L376.61,275.7 L376.81,274.16 L377.15,272.75 L377.61,271.47 L378.2,270.34 L378.91,269.37 L379.72,268.57 L380.64,267.95 L381.65,267.51 L382.74,267.27" fill="none" stroke="#8e8e8e" stroke-width="1" />
<path d="M371.58,287.71 L371.6,287.12 L371.67,286.56 L371.77,286.03 L371.91,285.54 L372.1,285.09 L372.32,284.68 L372.57,284.32 L372.86,284.02 L373.18,283.77 L380.18,279.77 L380.54,279.57 L380.91,279.43 L381.31,279.34 L381.73,279.32 L382.17,279.35 L382.62,279.44 L383.08,279.59 L383.55,279.8 L384.02,280.06 L384.5,280.37 L384.97,280.73 L385.43,281.14 L385.88,281.6 L386.31,282.1 L386.73,282.63 L387.13,283.2 L387.5,283.8 L387.85,284.42 L388.17,285.06 L388.45,285.71 L388.71,286.38 L388.92,287.05 L389.1,287.71 L389.24,288.38 L389.34,289.03 L389.4,289.67 L389.42,290.29 L389.4,290.88 L389.33,291.44 L389.23,291.97 L389.09,292.46 L388.9,292.91 L388.68,293.32 L388.43,293.68 L388.14,293.98 L387.82,294.23 L380.82,298.23 L380.46,298.43 L380.09,298.57 L379.69,298.66 L379.27,298.68 L378.83,298.65 L378.38,298.56 L377.92,298.41 L377.45,298.2 L376.98,297.94 L376.5,297.63 L376.03,297.27 L375.57,296.86 L375.12,296.4 L374.69,295.9 L374.27,295.37 L373.87,294.8 L373.5,294.2 L373.15,293.58 L372.83,292.94 L372.55,292.29 L372.29,291.62 L372.08,290.95 L371.9,290.29 L371.76,289.62 L371.66,288.97 L371.6,288.33 Z" fill="#fff" stroke="#8e8e8e" stroke-width="1"/>
<ellipse cx="377" cy="291" rx="8.2" ry="4.6" transform="rotate(65 377 291)" fill="#fff" stroke="#8e8e8e" stroke-width="1" />
<path d="M384.67,287.06 L385.09,288.04 L385.42,289.05 L385.68,290.05 L385.84,291.03 L385.92,291.98 L385.9,292.88 L385.79,293.71 L385.59,294.46 L385.3,295.12 L384.93,295.68 L384.48,296.11 L383.97,296.43 L383.39,296.62 L382.77,296.68 L382.11,296.61 L381.42,296.41 L380.71,296.08 L380,295.63 L379.3,295.07 L378.62,294.4 L377.97,293.64 L377.37,292.8 L376.82,291.9 L376.33,290.94" fill="none" stroke="#a8a8a8" stroke-width="1" />
<path d="M358.61,298.49 L358.61,298.23 L358.64,297.98 L358.68,297.74 L358.74,297.52 L358.82,297.32 L358.91,297.14 L359.02,296.98 L359.14,296.84 L359.28,296.73 L374.28,288.23 L374.44,288.15 L374.6,288.09 L374.77,288.05 L374.96,288.04 L375.15,288.06 L375.35,288.1 L375.55,288.17 L375.76,288.27 L375.97,288.39 L376.18,288.53 L376.38,288.7 L376.59,288.88 L376.79,289.09 L376.98,289.32 L377.17,289.56 L377.35,289.82 L377.51,290.08 L377.67,290.37 L377.81,290.65 L377.94,290.95 L378.06,291.25 L378.16,291.55 L378.24,291.85 L378.3,292.15 L378.35,292.44 L378.38,292.73 L378.39,293.01 L378.39,293.27 L378.36,293.52 L378.32,293.76 L378.26,293.98 L378.18,294.18 L378.09,294.36 L377.98,294.52 L377.86,294.66 L377.72,294.77 L362.72,303.27 L362.56,303.35 L362.4,303.41 L362.23,303.45 L362.04,303.46 L361.85,303.44 L361.65,303.4 L361.45,303.33 L361.24,303.23 L361.03,303.11 L360.82,302.97 L360.62,302.8 L360.41,302.62 L360.21,302.41 L360.02,302.18 L359.83,301.94 L359.65,301.68 L359.49,301.42 L359.33,301.13 L359.19,300.85 L359.06,300.55 L358.94,300.25 L358.84,299.95 L358.76,299.65 L358.7,299.35 L358.65,299.06 L358.62,298.77 Z" fill="#fff" stroke="#8e8e8e" stroke-width="1"/>
<ellipse cx="361" cy="300" rx="3.7" ry="2" transform="rotate(65 361 300)" fill="#fff" stroke="#8e8e8e" stroke-width="1" />
<path d="M337.18,308.64 L337.2,307.92 L337.27,307.22 L337.38,306.54 L337.54,305.89 L337.75,305.28 L338,304.71 L338.29,304.18 L338.62,303.7 L338.99,303.27 L339.4,302.9 L339.83,302.58 L340.29,302.32 L347.79,298.62 L348.28,298.43 L348.79,298.3 L349.31,298.24 L349.85,298.24 L350.4,298.3 L350.95,298.43 L351.5,298.62 L352.05,298.88 L352.58,299.2 L353.11,299.57 L353.62,300 L354.12,300.48 L354.58,301.01 L355.02,301.58 L355.43,302.19 L355.81,302.84 L356.15,303.52 L356.45,304.22 L356.71,304.95 L356.92,305.68 L357.09,306.43 L357.22,307.18 L357.29,307.92 L357.32,308.66 L357.3,309.38 L357.23,310.08 L357.12,310.76 L356.96,311.41 L356.75,312.02 L356.5,312.59 L356.21,313.12 L355.88,313.6 L355.51,314.03 L355.1,314.4 L354.67,314.72 L354.21,314.98 L346.71,318.68 L346.22,318.87 L345.71,319 L345.19,319.06 L344.65,319.06 L344.1,319 L343.55,318.87 L343,318.68 L342.45,318.42 L341.92,318.1 L341.39,317.73 L340.88,317.3 L340.38,316.82 L339.92,316.29 L339.48,315.72 L339.07,315.11 L338.69,314.46 L338.35,313.78 L338.05,313.08 L337.79,312.35 L337.58,311.62 L337.41,310.87 L337.28,310.12 L337.21,309.38 Z" fill="#fff" stroke="#8a8a8a" stroke-width="1"/>
<path d="M342.29,301.32 L343.07,301.05 L343.9,300.93 L344.76,300.98 L345.63,301.19 L346.5,301.56 L347.35,302.08 L348.17,302.74 L348.93,303.53 L349.63,304.43 L350.25,305.43 L350.78,306.51 L351.21,307.65 L351.53,308.82 L351.73,310 L351.82,311.17 L351.78,312.32 L351.63,313.4 L351.36,314.42 L350.98,315.34 L350.49,316.15 L349.91,316.83 L349.24,317.37 L348.51,317.76 L347.71,318" fill="none" stroke="#555" stroke-width="1.3" />
<path d="M343.89,300.52 L344.67,300.25 L345.5,300.13 L346.36,300.18 L347.23,300.39 L348.1,300.76 L348.95,301.28 L349.77,301.94 L350.53,302.73 L351.23,303.63 L351.85,304.63 L352.38,305.71 L352.81,306.85 L353.13,308.02 L353.33,309.2 L353.42,310.37 L353.38,311.52 L353.23,312.6 L352.96,313.62 L352.58,314.54 L352.09,315.35 L351.51,316.03 L350.84,316.57 L350.11,316.96 L349.31,317.2" fill="none" stroke="#555" stroke-width="1.3" />
<path d="M345.69,299.62 L346.47,299.35 L347.3,299.23 L348.16,299.28 L349.03,299.49 L349.9,299.86 L350.75,300.38 L351.57,301.04 L352.33,301.83 L353.03,302.73 L353.65,303.73 L354.18,304.81 L354.61,305.95 L354.93,307.12 L355.13,308.3 L355.22,309.47 L355.18,310.62 L355.03,311.7 L354.76,312.72 L354.38,313.64 L353.89,314.45 L353.31,315.13 L352.64,315.67 L351.91,316.06 L351.11,316.3" fill="none" stroke="#8a8a8a" stroke-width="1.3" />
<ellipse cx="343.5" cy="310.5" rx="8.8" ry="6" transform="rotate(72 343.5 310.5)" fill="#fff" stroke="#8a8a8a" stroke-width="1" />
<ellipse cx="343.4" cy="310.4" rx="3.2" ry="2.4" transform="rotate(72 343.4 310.4)" fill="#fff" stroke="#8a8a8a" stroke-width="1" />
<ellipse cx="343.4" cy="310.4" rx="1.4" ry="1" transform="rotate(72 343.4 310.4)" fill="#fff" stroke="#777" stroke-width="1" />
<path d="M263.87,332.89 L264.02,330.16 L264.35,327.52 L264.85,325 L265.52,322.62 L266.37,320.39 L267.37,318.33 L268.53,316.46 L269.83,314.8 L271.27,313.35 L272.83,312.12 L274.5,311.13 L293.5,301.63 L295.27,300.88 L297.12,300.38 L299.05,300.13 L301.03,300.14 L303.06,300.4 L305.11,300.91 L307.17,301.67 L309.23,302.67 L311.27,303.91 L313.27,305.37 L315.21,307.05 L317.1,308.92 L318.9,310.99 L320.61,313.22 L322.2,315.61 L323.69,318.14 L325.04,320.78 L326.24,323.52 L327.3,326.34 L328.2,329.21 L328.94,332.11 L329.5,335.02 L329.89,337.93 L330.1,340.8 L330.13,343.61 L329.98,346.34 L329.65,348.98 L329.15,351.5 L328.48,353.88 L327.63,356.11 L326.63,358.17 L325.47,360.04 L324.17,361.7 L322.73,363.15 L321.17,364.38 L319.5,365.37 L300.5,374.87 L298.73,375.62 L296.88,376.12 L294.95,376.37 L292.97,376.36 L290.94,376.1 L288.89,375.59 L286.83,374.83 L284.77,373.83 L282.73,372.59 L280.73,371.13 L278.79,369.45 L276.9,367.58 L275.1,365.51 L273.39,363.28 L271.8,360.89 L270.31,358.36 L268.96,355.72 L267.76,352.98 L266.7,350.16 L265.8,347.29 L265.06,344.39 L264.5,341.48 L264.11,338.57 L263.9,335.7 Z" fill="#fff" stroke="#8a8a8a" stroke-width="1.8"/>
<path d="M307.17,301.67 L308.45,301.45 L309.76,301.56 L311.05,302.13 L312.27,303.18 L313.39,304.63 L314.39,306.3" fill="none" stroke="#8c8c8c" stroke-width="1.8" />
<path d="M314.39,306.3 L315.76,306.69 L317.1,307.37 L318.31,308.45 L319.35,309.91 L320.18,311.66 L320.84,313.55" fill="none" stroke="#8c8c8c" stroke-width="1.8" />
<path d="M320.84,313.55 L322.18,314.51 L323.41,315.7 L324.44,317.18 L325.18,318.9 L325.65,320.79 L325.91,322.73" fill="none" stroke="#8c8c8c" stroke-width="1.8" />
<path d="M325.91,322.73 L327.09,324.16 L328.1,325.74 L328.84,327.48 L329.22,329.31 L329.28,331.15 L329.11,332.94" fill="none" stroke="#8c8c8c" stroke-width="1.8" />
<path d="M329.11,332.94 L330.02,334.71 L330.71,336.53 L331.08,338.36 L331.07,340.12 L330.72,341.74 L330.14,343.21" fill="none" stroke="#8c8c8c" stroke-width="1.8" />
<path d="M330.14,343.21 L330.68,345.14 L330.99,347.03 L330.96,348.78 L330.55,350.29 L329.82,351.53 L328.88,352.54" fill="none" stroke="#8c8c8c" stroke-width="1.8" />
<path d="M328.88,352.54 L329.01,354.45 L328.9,356.23 L328.48,357.72 L327.71,358.84 L326.67,359.58 L325.47,360.04" fill="none" stroke="#8c8c8c" stroke-width="1.8" />
<path d="M325.47,360.04 L325.17,361.74 L324.66,363.23 L323.88,364.33 L322.83,364.95 L321.58,365.13 L320.23,364.98" fill="none" stroke="#8c8c8c" stroke-width="1.8" />
<path d="M320.23,364.98 L319.53,366.31 L318.67,367.37 L317.61,367.97 L316.38,368.04 L315.04,367.62 L313.67,366.88" fill="none" stroke="#8c8c8c" stroke-width="1.8" />
<path d="M313.67,366.88 L312.64,367.72 L311.5,368.25 L310.27,368.29 L308.97,367.79 L307.67,366.83 L306.42,365.57" fill="none" stroke="#8c8c8c" stroke-width="1.8" />
<path d="M306.42,365.57 L305.16,365.84 L303.86,365.77 L302.56,365.25 L301.33,364.24 L300.19,362.82 L299.17,361.17" fill="none" stroke="#8c8c8c" stroke-width="1.8" />
<path d="M299.17,361.17 L297.8,360.83 L296.46,360.19 L295.24,359.16 L294.18,357.73 L293.32,355.99 L292.63,354.11" fill="none" stroke="#8c8c8c" stroke-width="1.8" />
<path d="M292.63,354.11 L291.29,353.19 L290.04,352.04 L289,350.59 L288.22,348.88 L287.72,347 L287.43,345.05" fill="none" stroke="#8c8c8c" stroke-width="1.8" />
<path d="M287.43,345.05 L286.24,343.66 L285.2,342.1 L284.44,340.38 L284.02,338.55 L283.93,336.7 L284.06,334.89" fill="none" stroke="#8c8c8c" stroke-width="1.8" />
<path d="M283.93,308.69 L299.13,301.09 L301.57,301.43 L286.37,309.03 Z" fill="#fff" stroke="#777" stroke-width="1" />
<line x1="283.93" y1="308.69" x2="299.13" y2="301.09" stroke="#333" stroke-width="1.1" />
<path d="M288.84,309.73 L304.04,302.13 L306.51,303.19 L291.31,310.79 Z" fill="#fff" stroke="#777" stroke-width="1" />
<line x1="288.84" y1="309.73" x2="304.04" y2="302.13" stroke="#333" stroke-width="1.1" />
<path d="M293.76,312.19 L308.96,304.59 L311.37,306.32 L296.17,313.92 Z" fill="#fff" stroke="#777" stroke-width="1" />
<line x1="293.76" y1="312.19" x2="308.96" y2="304.59" stroke="#333" stroke-width="1.1" />
<path d="M298.5,315.96 L313.7,308.36 L315.93,310.68 L300.73,318.28 Z" fill="#fff" stroke="#777" stroke-width="1" />
<line x1="298.5" y1="315.96" x2="313.7" y2="308.36" stroke="#333" stroke-width="1.1" />
<path d="M302.83,320.86 L318.03,313.26 L319.99,316.07 L304.79,323.67 Z" fill="#fff" stroke="#777" stroke-width="1" />
<line x1="302.83" y1="320.86" x2="318.03" y2="313.26" stroke="#333" stroke-width="1.1" />
<path d="M306.59,326.69 L321.79,319.09 L323.39,322.27 L308.19,329.87 Z" fill="#fff" stroke="#777" stroke-width="1" />
<line x1="306.59" y1="326.69" x2="321.79" y2="319.09" stroke="#333" stroke-width="1.1" />
<path d="M309.59,333.19 L324.79,325.59 L325.96,329 L310.76,336.6 Z" fill="#fff" stroke="#777" stroke-width="1" />
<line x1="309.59" y1="333.19" x2="324.79" y2="325.59" stroke="#333" stroke-width="1.1" />
<path d="M311.7,340.08 L326.9,332.48 L327.6,335.97 L312.4,343.57 Z" fill="#fff" stroke="#777" stroke-width="1" />
<line x1="311.7" y1="340.08" x2="326.9" y2="332.48" stroke="#333" stroke-width="1.1" />
<path d="M312.85,347.05 L328.05,339.45 L328.23,342.88 L313.03,350.48 Z" fill="#fff" stroke="#777" stroke-width="1" />
<line x1="312.85" y1="347.05" x2="328.05" y2="339.45" stroke="#333" stroke-width="1.1" />
<path d="M312.96,353.81 L328.16,346.21 L327.83,349.41 L312.63,357.01 Z" fill="#fff" stroke="#777" stroke-width="1" />
<line x1="312.96" y1="353.81" x2="328.16" y2="346.21" stroke="#333" stroke-width="1.1" />
<path d="M312.05,360.05 L327.25,352.45 L326.42,355.29 L311.22,362.89 Z" fill="#fff" stroke="#777" stroke-width="1" />
<line x1="312.05" y1="360.05" x2="327.25" y2="352.45" stroke="#333" stroke-width="1.1" />
<path d="M310.15,365.51 L325.35,357.91 L324.05,360.26 L308.85,367.86 Z" fill="#fff" stroke="#777" stroke-width="1" />
<line x1="310.15" y1="365.51" x2="325.35" y2="357.91" stroke="#333" stroke-width="1.1" />
<path d="M307.34,369.94 L322.54,362.34 L320.83,364.11 L305.63,371.71 Z" fill="#fff" stroke="#777" stroke-width="1" />
<line x1="307.34" y1="369.94" x2="322.54" y2="362.34" stroke="#333" stroke-width="1.1" />
<path d="M303.75,373.15 L318.95,365.55 L316.91,366.65 L301.71,374.25 Z" fill="#fff" stroke="#777" stroke-width="1" />
<line x1="303.75" y1="373.15" x2="318.95" y2="365.55" stroke="#333" stroke-width="1.1" />
<path d="M299.53,375 L314.73,367.4 L312.44,367.79 L297.24,375.39 Z" fill="#fff" stroke="#777" stroke-width="1" />
<line x1="299.53" y1="375" x2="314.73" y2="367.4" stroke="#333" stroke-width="1.1" />
<path d="M294.87,375.41 L310.07,367.81 L307.63,367.47 L292.43,375.07 Z" fill="#fff" stroke="#777" stroke-width="1" />
<line x1="294.87" y1="375.41" x2="310.07" y2="367.81" stroke="#333" stroke-width="1.1" />
<path d="M289.96,374.37 L305.16,366.77 L302.69,365.71 L287.49,373.31 Z" fill="#fff" stroke="#777" stroke-width="1" />
<line x1="289.96" y1="374.37" x2="305.16" y2="366.77" stroke="#333" stroke-width="1.1" />
<path d="M285.04,371.91 L300.24,364.31 L297.83,362.58 L282.63,370.18 Z" fill="#fff" stroke="#777" stroke-width="1" />
<line x1="285.04" y1="371.91" x2="300.24" y2="364.31" stroke="#333" stroke-width="1.1" />
<path d="M280.3,368.14 L295.5,360.54 L293.27,358.22 L278.07,365.82 Z" fill="#fff" stroke="#777" stroke-width="1" />
<line x1="280.3" y1="368.14" x2="295.5" y2="360.54" stroke="#333" stroke-width="1.1" />
<path d="M275.97,363.24 L291.17,355.64 L289.21,352.83 L274.01,360.43 Z" fill="#fff" stroke="#777" stroke-width="1" />
<line x1="275.97" y1="363.24" x2="291.17" y2="355.64" stroke="#333" stroke-width="1.1" />
<path d="M272.21,357.41 L287.41,349.81 L285.81,346.63 L270.61,354.23 Z" fill="#fff" stroke="#777" stroke-width="1" />
<line x1="272.21" y1="357.41" x2="287.41" y2="349.81" stroke="#333" stroke-width="1.1" />
<path d="M269.21,350.91 L284.41,343.31 L283.24,339.9 L268.04,347.5 Z" fill="#fff" stroke="#777" stroke-width="1" />
<line x1="269.21" y1="350.91" x2="284.41" y2="343.31" stroke="#333" stroke-width="1.1" />
<path d="M267.1,344.02 L282.3,336.42 L281.6,332.93 L266.4,340.53 Z" fill="#fff" stroke="#777" stroke-width="1" />
<line x1="267.1" y1="344.02" x2="282.3" y2="336.42" stroke="#333" stroke-width="1.1" />
<path d="M265.95,337.05 L281.15,329.45 L280.97,326.02 L265.77,333.62 Z" fill="#fff" stroke="#777" stroke-width="1" />
<line x1="265.95" y1="337.05" x2="281.15" y2="329.45" stroke="#333" stroke-width="1.1" />
<ellipse cx="287.5" cy="343" rx="34.5" ry="22" transform="rotate(71 287.5 343)" fill="#fff" stroke="#8a8a8a" stroke-width="1.3" />
<path d="M306.47,369.54 L306.32,371.92 L305.9,374.1 L305.15,375.88 L304.04,377.1 L302.63,377.68 L300.98,377.61 L299.2,376.99 L297.41,376" fill="none" stroke="#8a8a8a" stroke-width="2" />
<line x1="306.47" y1="369.54" x2="304.19" y2="366.35" stroke="#333" stroke-width="1.3" />
<path d="M297.41,376 L296.42,377.66 L295.23,378.98 L293.84,379.77 L292.29,379.9 L290.65,379.33 L289,378.13 L287.41,376.42 L285.94,374.43" fill="none" stroke="#8a8a8a" stroke-width="2" />
<line x1="297.41" y1="376" x2="296.22" y2="372.04" stroke="#333" stroke-width="1.3" />
<path d="M285.94,374.43 L284.35,374.96 L282.67,375.1 L280.98,374.71 L279.36,373.72 L277.9,372.14 L276.65,370.09 L275.64,367.71 L274.85,365.2" fill="none" stroke="#8a8a8a" stroke-width="2" />
<line x1="285.94" y1="374.43" x2="286.13" y2="370.66" stroke="#333" stroke-width="1.3" />
<path d="M274.85,365.2 L273.05,364.47 L271.3,363.4 L269.72,361.92 L268.42,360.05 L267.49,357.85 L266.95,355.45 L266.76,352.98 L266.84,350.57" fill="none" stroke="#8a8a8a" stroke-width="2" />
<line x1="274.85" y1="365.2" x2="276.37" y2="362.54" stroke="#333" stroke-width="1.3" />
<path d="M266.84,350.57 L265.27,348.76 L263.87,346.73 L262.78,344.53 L262.13,342.23 L261.96,339.95 L262.25,337.79 L262.93,335.82 L263.86,334.09" fill="none" stroke="#8a8a8a" stroke-width="2" />
<line x1="266.84" y1="350.57" x2="269.32" y2="349.66" stroke="#333" stroke-width="1.3" />
<path d="M263.86,334.09 L262.9,331.64 L262.19,329.16 L261.87,326.76 L262.01,324.6 L262.64,322.78 L263.7,321.39 L265.08,320.41 L266.64,319.78" fill="none" stroke="#8a8a8a" stroke-width="2" />
<line x1="263.86" y1="334.09" x2="266.7" y2="335.16" stroke="#333" stroke-width="1.3" />
<path d="M266.64,319.78 L266.52,317.29 L266.68,314.95 L267.2,312.95 L268.11,311.45 L269.38,310.54 L270.95,310.25 L272.7,310.5 L274.5,311.13" fill="none" stroke="#8a8a8a" stroke-width="2" />
<line x1="266.64" y1="319.78" x2="269.14" y2="322.57" stroke="#333" stroke-width="1.3" />
<path d="M306.8,360.1 L305.47,363.45 L303.71,366.26 L301.56,368.46 L299.08,370 L296.32,370.84 L293.37,370.96 L290.29,370.35 L287.17,369.02 L284.08,367.02 L281.11,364.4 L278.32,361.21 L275.79,357.55 L273.59,353.5 L271.77,349.17 L270.37,344.67 L269.44,340.11 L269,335.62 L269.05,331.3 L269.6,327.27 L270.63,323.63 L272.12,320.46 L274.03,317.87 L276.31,315.9 L278.9,314.61" fill="none" stroke="#999" stroke-width="1.3" />
<line x1="297.94" y1="355.99" x2="302.48" y2="363.38" stroke="#3a3a3a" stroke-width="1.3" />
<line x1="297.33" y1="356.62" x2="301.54" y2="364.34" stroke="#aaa" stroke-width="1" />
<line x1="296.51" y1="357.27" x2="300.3" y2="365.34" stroke="#3a3a3a" stroke-width="1.3" />
<line x1="295.8" y1="357.7" x2="299.21" y2="366" stroke="#aaa" stroke-width="1" />
<line x1="294.87" y1="358.1" x2="297.8" y2="366.61" stroke="#3a3a3a" stroke-width="1.3" />
<line x1="294.08" y1="358.32" x2="296.59" y2="366.95" stroke="#aaa" stroke-width="1" />
<line x1="293.07" y1="358.46" x2="295.05" y2="367.15" stroke="#3a3a3a" stroke-width="1.3" />
<line x1="292.22" y1="358.46" x2="293.75" y2="367.15" stroke="#aaa" stroke-width="1" />
<line x1="291.15" y1="358.33" x2="292.13" y2="366.94" stroke="#3a3a3a" stroke-width="1.3" />
<line x1="290.27" y1="358.11" x2="290.78" y2="366.6" stroke="#aaa" stroke-width="1" />
<line x1="289.19" y1="357.72" x2="289.13" y2="365.99" stroke="#3a3a3a" stroke-width="1.3" />
<line x1="288.3" y1="357.29" x2="287.77" y2="365.32" stroke="#aaa" stroke-width="1" />
<line x1="287.23" y1="356.65" x2="286.14" y2="364.32" stroke="#3a3a3a" stroke-width="1.3" />
<line x1="286.37" y1="356.02" x2="284.82" y2="363.35" stroke="#aaa" stroke-width="1" />
<line x1="285.35" y1="355.15" x2="283.25" y2="361.99" stroke="#3a3a3a" stroke-width="1.3" />
<line x1="284.54" y1="354.34" x2="282" y2="360.74" stroke="#aaa" stroke-width="1" />
<line x1="283.59" y1="353.26" x2="280.55" y2="359.07" stroke="#3a3a3a" stroke-width="1.3" />
<line x1="282.85" y1="352.3" x2="279.42" y2="357.58" stroke="#aaa" stroke-width="1" />
<line x1="282.01" y1="351.05" x2="278.12" y2="355.64" stroke="#3a3a3a" stroke-width="1.3" />
<line x1="281.37" y1="349.96" x2="277.14" y2="353.96" stroke="#aaa" stroke-width="1" />
<line x1="280.66" y1="348.58" x2="276.04" y2="351.82" stroke="#3a3a3a" stroke-width="1.3" />
<line x1="280.13" y1="347.4" x2="275.24" y2="350" stroke="#aaa" stroke-width="1" />
<line x1="279.57" y1="345.92" x2="274.37" y2="347.71" stroke="#3a3a3a" stroke-width="1.3" />
<line x1="279.18" y1="344.68" x2="273.77" y2="345.8" stroke="#aaa" stroke-width="1" />
<line x1="278.79" y1="343.16" x2="273.16" y2="343.44" stroke="#3a3a3a" stroke-width="1.3" />
<line x1="278.54" y1="341.9" x2="272.77" y2="341.51" stroke="#aaa" stroke-width="1" />
<line x1="278.33" y1="340.38" x2="272.44" y2="339.15" stroke="#3a3a3a" stroke-width="1.3" />
<line x1="278.24" y1="339.14" x2="272.29" y2="337.24" stroke="#aaa" stroke-width="1" />
<line x1="278.22" y1="337.66" x2="272.25" y2="334.96" stroke="#3a3a3a" stroke-width="1.3" />
<line x1="278.28" y1="336.48" x2="272.33" y2="333.14" stroke="#aaa" stroke-width="1" />
<line x1="278.44" y1="335.09" x2="272.57" y2="330.99" stroke="#3a3a3a" stroke-width="1.3" />
<line x1="278.65" y1="334" x2="272.89" y2="329.32" stroke="#aaa" stroke-width="1" />
<line x1="279" y1="332.75" x2="273.42" y2="327.38" stroke="#3a3a3a" stroke-width="1.3" />
<line x1="279.36" y1="331.78" x2="273.96" y2="325.9" stroke="#aaa" stroke-width="1" />
<line x1="279.88" y1="330.7" x2="274.75" y2="324.22" stroke="#3a3a3a" stroke-width="1.3" />
<line x1="280.38" y1="329.89" x2="275.49" y2="322.98" stroke="#aaa" stroke-width="1" />
<line x1="281.06" y1="329.01" x2="276.52" y2="321.62" stroke="#3a3a3a" stroke-width="1.3" />
<line x1="281.67" y1="328.38" x2="277.46" y2="320.66" stroke="#aaa" stroke-width="1" />
<path d="M303.42,362.15 L301.79,364.1 L299.91,365.6 L297.8,366.61 L295.52,367.11 L293.11,367.09 L290.63,366.55 L288.12,365.51 L285.64,363.97 L283.25,361.99 L280.98,359.59 L278.9,356.83 L277.04,353.77 L275.44,350.47 L274.14,347.01 L273.16,343.44 L272.53,339.86 L272.25,336.33 L272.35,332.94 L272.8,329.74 L273.6,326.82 L274.75,324.22 L276.2,322.02 L277.93,320.24 L279.91,318.94" fill="none" stroke="#777" stroke-width="1" />
<path d="M298.56,355.19 L297.49,356.47 L296.25,357.44 L294.87,358.1 L293.38,358.43 L291.8,358.43 L290.17,358.08 L288.53,357.41 L286.91,356.43 L285.35,355.15 L283.87,353.6 L282.51,351.82 L281.3,349.84 L280.26,347.71 L279.42,345.46 L278.79,343.16 L278.39,340.84 L278.22,338.55 L278.29,336.35 L278.59,334.28 L279.13,332.38 L279.88,330.7 L280.84,329.26 L281.98,328.11 L283.28,327.26" fill="none" stroke="#666" stroke-width="1" />
<path d="M282.31,317.06 Q287.69,319.28 287.07,327.5" fill="none" stroke="#666" stroke-width="1.3" />
<line x1="287.07" y1="327.5" x2="287.21" y2="317.12" stroke="#777" stroke-width="1.2" />
<path d="M291.65,318.8 Q295.13,321.32 292.62,329.83" fill="none" stroke="#666" stroke-width="1.3" />
<line x1="292.62" y1="329.83" x2="296.56" y2="322.43" stroke="#777" stroke-width="1.2" />
<path d="M300.42,326.89 Q301.87,328.23 297.33,335.56" fill="none" stroke="#666" stroke-width="1.3" />
<line x1="297.33" y1="335.56" x2="304.03" y2="333.11" stroke="#777" stroke-width="1.2" />
<path d="M306.26,339.17 Q306.1,338.16 299.94,343.15" fill="none" stroke="#666" stroke-width="1.3" />
<line x1="299.94" y1="343.15" x2="307.6" y2="346.31" stroke="#777" stroke-width="1.2" />
<path d="M307.62,352.34 Q306.68,348.45 299.75,350.56" fill="none" stroke="#666" stroke-width="1.3" />
<line x1="299.75" y1="350.56" x2="306.32" y2="358.49" stroke="#777" stroke-width="1.2" />
<path d="M287.78,327.29 Q290.33,332.82 289.98,326.99" fill="none" stroke="#7a7a7a" stroke-width="1.2" />
<path d="M291.31,327.19 Q292.37,333.18 293.68,328.19" fill="none" stroke="#7a7a7a" stroke-width="1.2" />
<path d="M295.02,329.1 Q294.43,334.68 297.21,331.25" fill="none" stroke="#7a7a7a" stroke-width="1.2" />
<path d="M298.35,332.75 Q296.21,337.09 300.06,335.73" fill="none" stroke="#7a7a7a" stroke-width="1.2" />
<path d="M300.84,337.59 Q297.45,340.08 301.81,340.98" fill="none" stroke="#7a7a7a" stroke-width="1.2" />
<path d="M302.11,342.94 Q297.97,343.2 302.19,346.24" fill="none" stroke="#7a7a7a" stroke-width="1.2" />
<path d="M301.98,348 Q297.69,346 301.17,350.73" fill="none" stroke="#7a7a7a" stroke-width="1.2" />
<path d="M300.47,352.04 Q296.66,348.07 298.89,353.8" fill="none" stroke="#7a7a7a" stroke-width="1.2" />
<path d="M297.8,354.47 Q295.02,349.11 295.67,355.01" fill="none" stroke="#7a7a7a" stroke-width="1.2" />
<path d="M290,323.5 C294,319.5 300,321.5 302,327.5 M304,335.5 C309,338.5 309,344.5 305,348.5 M296,361.5 C302,364.5 306,360.5 307,354.5" fill="none" stroke="#666" stroke-width="1.3" />
<path d="M297,331.5 L306,327.5 M293,349.5 L304,345.5 M286,332.5 L293,337.5" fill="none" stroke="#555" stroke-width="1.1" />
<line x1="167" y1="152.5" x2="190" y2="174.5" stroke="#8a8a8a" stroke-width="1" />
<line x1="161" y1="156" x2="189" y2="175.5" stroke="#8a8a8a" stroke-width="1" />
<line x1="210" y1="152" x2="183" y2="170" stroke="#8a8a8a" stroke-width="1" />
<ellipse cx="161.2" cy="148.6" rx="2.4" ry="1.5" transform="rotate(40 161.2 148.6)" fill="#fff" stroke="#333" stroke-width="1.1" />
<line x1="162.8" y1="149.9" x2="168.7" y2="154.2" stroke="#2a2a2a" stroke-width="2" />
<line x1="163.7" y1="149.1" x2="168.2" y2="152.8" stroke="#666" stroke-width="1" />
<ellipse cx="155.6" cy="152.6" rx="2.4" ry="1.5" transform="rotate(40 155.6 152.6)" fill="#fff" stroke="#333" stroke-width="1.1" />
<line x1="157.2" y1="153.9" x2="163.1" y2="158.2" stroke="#2a2a2a" stroke-width="2" />
<line x1="158.1" y1="153.1" x2="162.6" y2="156.8" stroke="#666" stroke-width="1" />
<ellipse cx="213.5" cy="148.6" rx="2.4" ry="1.8" transform="rotate(-40 213.5 148.6)" fill="#fff" stroke="#333" stroke-width="1.1" />
<line x1="211.5" y1="150.8" x2="207.5" y2="153.6" stroke="#2a2a2a" stroke-width="2" />
<path d="M169,167.5 L173,167 L190,174.5 L195,172 L201,170 L203.5,172 L202,176 L195,181 L188,184.5 L183,183 L170,175 L168,171 Z" fill="#fff" stroke="#8a8a8a" stroke-width="1" />
<path d="M173,167 L190,174.5 L188,177 L171,169" fill="none" stroke="#8a8a8a" stroke-width="1" />
<path d="M171,171 C170,169 173,169 176,171 L182,175 C184,177 182,179 180,178 L173,174 Z" fill="#fff" stroke="#3a3a3a" stroke-width="1" />
<path d="M172.5,172 L180,176.5" fill="none" stroke="#3a3a3a" stroke-width="1.4" />
<ellipse cx="193" cy="178.5" rx="1.5" ry="1.3" transform="rotate(0 193 178.5)" fill="#fff" stroke="#8a8a8a" stroke-width="1" />
<path d="M197.5,173.5 L199.5,173.5 L199.5,176 L197.5,176 Z" fill="none" stroke="#8a8a8a" stroke-width="1" />
<line x1="186" y1="180" x2="187" y2="182" stroke="#8a8a8a" stroke-width="1" />
<path d="M200.4,344.5 L216.8,334.8 L225.4,335.8 L226.4,337.2 L218,341.6 L218,343.5 L222,346 L229,347 L232,352 L231.5,360 L226,363 L214,368 L208,373 L207,382 L201,387 L192,387.5 L188,383 L186,372 L185.5,362 L189,356 L199.4,352 Z" fill="#fff" stroke="#8e8e8e" stroke-width="1" />
<line x1="203.3" y1="342.5" x2="216.8" y2="335.8" stroke="#3c3c3c" stroke-width="1.2" />
<path d="M199.4,346 L199.4,353 M204,349 L204,357" fill="none" stroke="#8e8e8e" stroke-width="1" />
<path d="M208.81,353.6 L208.82,353.03 L208.87,352.48 L208.96,351.95 L209.09,351.46 L209.26,351 L209.46,350.58 L209.7,350.2 L209.97,349.87 L210.27,349.58 L210.59,349.34 L210.95,349.15 L222.95,343.15 L223.33,343.01 L223.73,342.93 L224.14,342.9 L224.57,342.92 L225.01,343 L225.46,343.13 L225.91,343.31 L226.36,343.55 L226.81,343.83 L227.26,344.16 L227.69,344.54 L228.11,344.95 L228.52,345.41 L228.91,345.9 L229.27,346.42 L229.61,346.97 L229.92,347.54 L230.2,348.13 L230.45,348.73 L230.67,349.35 L230.85,349.97 L230.99,350.58 L231.1,351.2 L231.16,351.81 L231.19,352.4 L231.18,352.97 L231.13,353.52 L231.04,354.05 L230.91,354.54 L230.74,355 L230.54,355.42 L230.3,355.8 L230.03,356.13 L229.73,356.42 L229.41,356.66 L229.05,356.85 L217.05,362.85 L216.67,362.99 L216.27,363.07 L215.86,363.1 L215.43,363.08 L214.99,363 L214.54,362.87 L214.09,362.69 L213.64,362.45 L213.19,362.17 L212.74,361.84 L212.31,361.46 L211.89,361.05 L211.48,360.59 L211.09,360.1 L210.73,359.58 L210.39,359.03 L210.08,358.46 L209.8,357.87 L209.55,357.27 L209.33,356.65 L209.15,356.03 L209.01,355.42 L208.9,354.8 L208.84,354.19 Z" fill="#fff" stroke="#8e8e8e" stroke-width="1"/>
<ellipse cx="226" cy="350" rx="7.5" ry="4.6" transform="rotate(66 226 350)" fill="#fff" stroke="#3c3c3c" stroke-width="1" />
<ellipse cx="226.5" cy="349.8" rx="5" ry="3" transform="rotate(66 226.5 349.8)" fill="#fff" stroke="#8e8e8e" stroke-width="1" />
<path d="M223.61,349.97 L224.09,350.88 L224.49,351.84 L224.81,352.81 L225.03,353.79 L225.16,354.76 L225.19,355.69 L225.12,356.57 L224.96,357.38 L224.7,358.11 L224.35,358.74 L223.91,359.26 L223.41,359.66 L222.83,359.94 L222.21,360.08 L221.54,360.09 L220.84,359.96 L220.13,359.7 L219.41,359.32 L218.71,358.81 L218.02,358.19 L217.38,357.47 L216.79,356.67 L216.26,355.8 L215.8,354.87" fill="none" stroke="#8e8e8e" stroke-width="1" />
<path d="M220.11,351.77 L220.59,352.68 L220.99,353.64 L221.31,354.61 L221.53,355.59 L221.66,356.56 L221.69,357.49 L221.62,358.37 L221.46,359.18 L221.2,359.91 L220.85,360.54 L220.41,361.06 L219.91,361.46 L219.33,361.74 L218.71,361.88 L218.04,361.89 L217.34,361.76 L216.63,361.5 L215.91,361.12 L215.21,360.61 L214.52,359.99 L213.88,359.27 L213.29,358.47 L212.76,357.6 L212.3,356.67" fill="none" stroke="#a8a8a8" stroke-width="1" />
<path d="M186,356 L197,352 L198.5,359 L187.5,363 Z" fill="#9a9a9a" stroke="#3c3c3c" stroke-width="1" />
<line x1="188" y1="355.5" x2="189" y2="361.5" stroke="#444" stroke-width="1" />
<line x1="190.6" y1="354.6" x2="191.6" y2="360.6" stroke="#444" stroke-width="1" />
<line x1="193.2" y1="353.7" x2="194.2" y2="359.7" stroke="#444" stroke-width="1" />
<line x1="195.8" y1="352.8" x2="196.8" y2="358.8" stroke="#444" stroke-width="1" />
<path d="M189,362 L207,355.5 L209.5,367 L191.5,374 Z" fill="#b4b4b4" stroke="#3c3c3c" stroke-width="1" />
<line x1="190" y1="366" x2="208" y2="359.5" stroke="#666" stroke-width="1" />
<line x1="191" y1="370" x2="209" y2="363.5" stroke="#666" stroke-width="1" />
<path d="M191.5,376 L205,371 L207,379 L193.5,384 Z" fill="#a8a8a8" stroke="#3c3c3c" stroke-width="1" />
<line x1="196" y1="374.5" x2="198" y2="382.5" stroke="#555" stroke-width="1" />
<line x1="201" y1="372.5" x2="203" y2="380.5" stroke="#555" stroke-width="1" />
<path d="M189.77,382.14 L189.78,381.8 L189.8,381.47 L189.85,381.15 L189.93,380.85 L190.03,380.56 L190.15,380.29 L190.29,380.04 L190.46,379.81 L190.64,379.61 L190.84,379.43 L191.06,379.28 L191.29,379.16 L201.29,374.66 L201.54,374.57 L201.79,374.51 L202.06,374.48 L202.33,374.48 L202.61,374.51 L202.89,374.57 L203.17,374.66 L203.45,374.78 L203.73,374.92 L204,375.1 L204.26,375.3 L204.52,375.52 L204.76,375.77 L204.99,376.04 L205.21,376.33 L205.4,376.63 L205.58,376.95 L205.74,377.28 L205.88,377.62 L206,377.96 L206.09,378.31 L206.16,378.67 L206.21,379.02 L206.23,379.36 L206.22,379.7 L206.2,380.03 L206.15,380.35 L206.07,380.65 L205.97,380.94 L205.85,381.21 L205.71,381.46 L205.54,381.69 L205.36,381.89 L205.16,382.07 L204.94,382.22 L204.71,382.34 L194.71,386.84 L194.46,386.93 L194.21,386.99 L193.94,387.02 L193.67,387.02 L193.39,386.99 L193.11,386.93 L192.83,386.84 L192.55,386.72 L192.27,386.58 L192,386.4 L191.74,386.2 L191.48,385.98 L191.24,385.73 L191.01,385.46 L190.79,385.17 L190.6,384.87 L190.42,384.55 L190.26,384.22 L190.12,383.88 L190,383.54 L189.91,383.19 L189.84,382.83 L189.79,382.48 Z" fill="#fff" stroke="#8e8e8e" stroke-width="1"/>
<ellipse cx="193" cy="383" rx="4.2" ry="3" transform="rotate(66 193 383)" fill="#fff" stroke="#8e8e8e" stroke-width="1" />
<line x1="209" y1="373" x2="222" y2="364" stroke="#a8a8a8" stroke-width="1" />
<line x1="211" y1="366" x2="226" y2="359" stroke="#a8a8a8" stroke-width="1" />
<path d="M226,386 L232,383 L237,388 L240.5,398 L240.5,405 L236,412 L231,416 L227,410 Z" fill="#fff" stroke="#8e8e8e" stroke-width="1" />
<path d="M229,396 L239,391 L240,397 L230,402 Z" fill="#fff" stroke="#3c3c3c" stroke-width="1" />
<path d="M230,399 L238,395" fill="none" stroke="#8e8e8e" stroke-width="1" />
<path d="M232,386 L232.5,380.5 L235.5,381 L236,388" fill="none" stroke="#8e8e8e" stroke-width="1" />
<path d="M233,402 L235,412 M236,401 L238,409" fill="none" stroke="#8e8e8e" stroke-width="1" />
<path d="M209.1,381.4 L216.7,380.5 L220.1,383.9 L228.7,386.5 L232,390 L231,402 L229,417 L221,416.3 L208.2,415.4 L204,401.8 Z" fill="#fff" stroke="#8e8e8e" stroke-width="1" />
<path d="M216.7,380.5 L220.1,383.9 L228.7,386.5" fill="none" stroke="#3c3c3c" stroke-width="1.2" />
<path d="M211,384 C214,386 216,390 216,395" fill="none" stroke="#8e8e8e" stroke-width="1" />
<path d="M207.4,383.9 C203,385 202,390 203.1,393.5 C204,398 206,400 209,400.5 L213.3,398 L213.3,386 Z" fill="#fff" stroke="#3c3c3c" stroke-width="1" />
<path d="M213.3,395 L221,394.5 C224,395 225,398 225.5,402 L228.7,417 M213.3,395 L217.6,406" fill="none" stroke="#3c3c3c" stroke-width="1" />
<path d="M204,401.8 L217.6,406.1 L221,416.3 L208.2,415.4 Z" fill="#fff" stroke="#8e8e8e" stroke-width="1" />
<path d="M217.6,406.1 L225.5,408 L228.7,417 L221,416.3" fill="#fff" stroke="#8e8e8e" stroke-width="1" />
<line x1="205" y1="402.2" x2="207.6" y2="416" stroke="#555" stroke-width="0.9" />
<line x1="207.1" y1="402.5" x2="209.7" y2="416" stroke="#555" stroke-width="0.9" />
<line x1="209.2" y1="402.8" x2="211.8" y2="416" stroke="#555" stroke-width="0.9" />
<line x1="211.3" y1="403.1" x2="213.9" y2="416" stroke="#555" stroke-width="0.9" />
<line x1="213.4" y1="403.4" x2="216" y2="416" stroke="#555" stroke-width="0.9" />
<line x1="215.5" y1="403.7" x2="218.1" y2="416" stroke="#555" stroke-width="0.9" />
<line x1="217.6" y1="404" x2="220.2" y2="416" stroke="#555" stroke-width="0.9" />
<line x1="219.7" y1="404.3" x2="222.3" y2="416" stroke="#555" stroke-width="0.9" />
<line x1="221.8" y1="404.6" x2="224.4" y2="416" stroke="#555" stroke-width="0.9" />
<line x1="223.9" y1="404.9" x2="226.5" y2="416" stroke="#555" stroke-width="0.9" />
<line x1="226" y1="405.2" x2="228.6" y2="416" stroke="#555" stroke-width="0.9" />
<line x1="204" y1="401.8" x2="217.6" y2="406.1" stroke="#3c3c3c" stroke-width="1.1" />
<path d="M112.4,397.2 L123,391 L131,384.8 L140.7,379.5 L153.1,375 L161,374.2 L167.3,376.8 L177.9,383 L183.2,388.3 L186.7,395.4 L187.6,418.4 L196.5,422 L197.3,429 L195.6,434.3 L188.5,443.2 L177.9,450.3 L163.7,455.6 L153.1,459.1 L140.7,463.5 L131.9,462.2 L126.5,452 L121.2,437.9 L121.2,430.8 L114.2,427.3 L110.6,418.4 L110.6,404.2 Z" fill="#fff" stroke="#8e8e8e" stroke-width="1" />
<path d="M131.1,388.3 L148.3,378.9 L159.4,374.6 L164.6,375.4 L167.1,379.7 L152,388 L136,393 Z" fill="#fff" stroke="#8e8e8e" stroke-width="1" />
<line x1="135" y1="389" x2="139" y2="391.5" stroke="#3c3c3c" stroke-width="1" />
<line x1="138.6" y1="387.1" x2="142.6" y2="389.6" stroke="#3c3c3c" stroke-width="1" />
<line x1="142.2" y1="385.2" x2="146.2" y2="387.7" stroke="#3c3c3c" stroke-width="1" />
<line x1="145.8" y1="383.3" x2="149.8" y2="385.8" stroke="#3c3c3c" stroke-width="1" />
<line x1="149.4" y1="381.4" x2="153.4" y2="383.9" stroke="#3c3c3c" stroke-width="1" />
<line x1="134" y1="384.5" x2="151" y2="376.5" stroke="#3c3c3c" stroke-width="1.2" />
<line x1="141.4" y1="399.4" x2="167.1" y2="385.7" stroke="#8e8e8e" stroke-width="1" />
<line x1="146.6" y1="401.1" x2="167.1" y2="391.7" stroke="#8e8e8e" stroke-width="1" />
<line x1="152" y1="388" x2="170" y2="379" stroke="#8e8e8e" stroke-width="1" />
<path d="M166.1,384.3 C172,388 178,396 180.6,403.6 C183,410 184,420 183.8,429.3" fill="none" stroke="#8e8e8e" stroke-width="1" />
<line x1="146.8" y1="403.6" x2="172.5" y2="393.9" stroke="#8e8e8e" stroke-width="1" />
<path d="M158,374.6 C166,376 172,379 175.7,382.7" fill="none" stroke="#666" stroke-width="1" />
<path d="M179,447 L186,441" fill="none" stroke="#8e8e8e" stroke-width="1" />
<path d="M163,389 L175,385 L178,405 L166,408 Z" fill="#fff" stroke="#8e8e8e" stroke-width="1" />
<path d="M163.5,389.5 l11,-3.5 l0.5,2.4 l-11,3.5 z" fill="#fff" stroke="#3c3c3c" stroke-width="1" />
<path d="M164.1,393.9 l11,-3.5 l0.5,2.4 l-11,3.5 z" fill="#fff" stroke="#3c3c3c" stroke-width="1" />
<path d="M164.7,398.3 l11,-3.5 l0.5,2.4 l-11,3.5 z" fill="#fff" stroke="#3c3c3c" stroke-width="1" />
<path d="M165.3,402.7 l11,-3.5 l0.5,2.4 l-11,3.5 z" fill="#fff" stroke="#3c3c3c" stroke-width="1" />
<ellipse cx="181" cy="420" rx="7" ry="2" transform="rotate(-18 181 420)" fill="#fff" stroke="#666" stroke-width="1.2" />
<ellipse cx="181" cy="423.4" rx="7" ry="2" transform="rotate(-18 181 423.4)" fill="#fff" stroke="#666" stroke-width="1.2" />
<ellipse cx="181" cy="426.8" rx="7" ry="2" transform="rotate(-18 181 426.8)" fill="#fff" stroke="#666" stroke-width="1.2" />
<ellipse cx="181" cy="430.2" rx="7" ry="2" transform="rotate(-18 181 430.2)" fill="#fff" stroke="#666" stroke-width="1.2" />
<ellipse cx="181" cy="433.6" rx="7" ry="2" transform="rotate(-18 181 433.6)" fill="#fff" stroke="#666" stroke-width="1.2" />
<line x1="175" y1="419" x2="176" y2="436" stroke="#8e8e8e" stroke-width="1" />
<line x1="188" y1="416" x2="189" y2="433" stroke="#8e8e8e" stroke-width="1" />
<path d="M158,413 L172,409 L174,422 L160,426 Z" fill="#fff" stroke="#8e8e8e" stroke-width="1" />
<path d="M142,427 C150,424 160,426 163,433 C165,440 160,446 150,446 L142,445 Z" fill="#fff" stroke="#8e8e8e" stroke-width="1" />
<path d="M145,430 C151,429 157,431 158,436" fill="none" stroke="#a8a8a8" stroke-width="1" />
<line x1="163" y1="433" x2="186" y2="438" stroke="#8e8e8e" stroke-width="1" />
<line x1="160" y1="446" x2="181" y2="452" stroke="#8e8e8e" stroke-width="1" />
<path d="M170,440 L178,438 L180,447 L172,449 Z" fill="#fff" stroke="#8e8e8e" stroke-width="1" />
<path d="M112,404 C114,398 122,396 131,396 C142,396 151,399 154,406 C157,414 155,424 148,428 C140,431 128,431 121,429 C115,427 111,420 111.2,413 Z" fill="#fff" stroke="#8e8e8e" stroke-width="1" />
<path d="M118,401 L128,398 L138,424 L128,427 Z" fill="#b8b8b8" stroke="none" stroke-width="1" />
<path d="M126,399 L132,397 L141,420 L136,423 Z" fill="#cfcfcf" stroke="none" stroke-width="1" />
<line x1="119" y1="402" x2="127" y2="423" stroke="#666" stroke-width="1" />
<line x1="122.5" y1="401.2" x2="130.5" y2="422.2" stroke="#666" stroke-width="1" />
<line x1="126" y1="400.4" x2="134" y2="421.4" stroke="#666" stroke-width="1" />
<line x1="129.5" y1="399.6" x2="137.5" y2="420.6" stroke="#666" stroke-width="1" />
<line x1="133" y1="398.8" x2="141" y2="419.8" stroke="#666" stroke-width="1" />
<path d="M131,402 L143,399 L146,409 L134,412 Z" fill="none" stroke="#3c3c3c" stroke-width="1" />
<path d="M124,414 L134,411 L137,420 L127,423 Z" fill="none" stroke="#3c3c3c" stroke-width="1" />
<ellipse cx="116.3" cy="410.8" rx="4.6" ry="5.4" transform="rotate(-20 116.3 410.8)" fill="#fff" stroke="#8e8e8e" stroke-width="1" />
<ellipse cx="116.6" cy="410.8" rx="2.53" ry="2.97" transform="rotate(-20 116.6 410.8)" fill="#fff" stroke="#666" stroke-width="1" />
<ellipse cx="117.8" cy="422" rx="4.6" ry="5.4" transform="rotate(-20 117.8 422)" fill="#fff" stroke="#8e8e8e" stroke-width="1" />
<ellipse cx="118.1" cy="422" rx="2.53" ry="2.97" transform="rotate(-20 118.1 422)" fill="#fff" stroke="#666" stroke-width="1" />
<ellipse cx="148.4" cy="413.2" rx="4.8" ry="4.8" transform="rotate(-20 148.4 413.2)" fill="#fff" stroke="#8e8e8e" stroke-width="1" />
<ellipse cx="148.7" cy="413.2" rx="2.64" ry="2.64" transform="rotate(-20 148.7 413.2)" fill="#fff" stroke="#666" stroke-width="1" />
<ellipse cx="134.7" cy="455.8" rx="5.6" ry="5.6" transform="rotate(-20 134.7 455.8)" fill="#fff" stroke="#8e8e8e" stroke-width="1" />
<ellipse cx="135" cy="455.8" rx="3.08" ry="3.08" transform="rotate(-20 135 455.8)" fill="#fff" stroke="#666" stroke-width="1" />
<ellipse cx="152.4" cy="451" rx="4" ry="4" transform="rotate(-20 152.4 451)" fill="#fff" stroke="#8e8e8e" stroke-width="1" />
<ellipse cx="152.7" cy="451" rx="2.2" ry="2.2" transform="rotate(-20 152.7 451)" fill="#fff" stroke="#666" stroke-width="1" />
<path d="M135.67,450.29 L136.23,450.41 L136.77,450.6 L137.29,450.83 L137.78,451.12 L138.24,451.46 L138.66,451.84 L139.04,452.26 L139.38,452.72 L139.67,453.21 L139.9,453.73 L140.09,454.27 L140.21,454.83 L140.29,455.39 L140.3,455.96 L140.25,456.53 L140.15,457.09 L139.99,457.64 L139.78,458.17 L139.51,458.67 L139.19,459.14 L138.83,459.58 L138.42,459.98 L137.98,460.34 L137.5,460.65" fill="none" stroke="#3c3c3c" stroke-width="1.3" />
<path d="M124,431 C126,440 130,448 134,451" fill="none" stroke="#8e8e8e" stroke-width="1" />
<path d="M130,432 L147,432" fill="none" stroke="#8e8e8e" stroke-width="1" />
<path d="M133,440 L140,438 L142,446 L135,448 Z" fill="#c8c8c8" stroke="#666" stroke-width="1" />
<line x1="160" y1="428" x2="185" y2="423" stroke="#a8a8a8" stroke-width="1" />
<line x1="176" y1="402" x2="191" y2="398" stroke="#a8a8a8" stroke-width="1" />
<path shape-rendering="geometricPrecision" d="M529.79,64 h1.75 v8 h-1.75 z M529.84,64 L527.54,65.9 L527.54,67.3 L529.84,65.9 z" fill="#151515"/>
<text x="250.7" y="178.5" text-anchor="middle" style="font-family:'Liberation Sans',sans-serif;font-weight:bold;font-size:11px" fill="#151515">2</text>
<text x="644.2" y="101" text-anchor="middle" style="font-family:'Liberation Sans',sans-serif;font-weight:bold;font-size:11px" fill="#151515">3</text>
<text x="626.7" y="101" text-anchor="middle" style="font-family:'Liberation Sans',sans-serif;font-weight:bold;font-size:11px" fill="#151515">4</text>
<text x="608.9" y="191.8" text-anchor="middle" style="font-family:'Liberation Sans',sans-serif;font-weight:bold;font-size:11px" fill="#151515">5</text>
<text x="545.7" y="108.6" text-anchor="middle" style="font-family:'Liberation Sans',sans-serif;font-weight:bold;font-size:11px" fill="#151515">6</text>
<text x="509.8" y="129.6" text-anchor="middle" style="font-family:'Liberation Sans',sans-serif;font-weight:bold;font-size:11px" fill="#151515">7</text>
<text x="486.2" y="143.8" text-anchor="middle" style="font-family:'Liberation Sans',sans-serif;font-weight:bold;font-size:11px" fill="#151515">8</text>
<text x="466.6" y="154.4" text-anchor="middle" style="font-family:'Liberation Sans',sans-serif;font-weight:bold;font-size:11px" fill="#151515">9</text>
<path shape-rendering="geometricPrecision" d="M394.43,186.4 h1.75 v8 h-1.75 z M394.48,186.4 L392.18,188.3 L392.18,189.7 L394.48,188.3 z" fill="#151515"/>
<text x="400.76" y="194.4" text-anchor="middle" style="font-family:'Liberation Sans',sans-serif;font-weight:bold;font-size:11px" fill="#151515">0</text>
<path shape-rendering="geometricPrecision" d="M340.13,218 h1.75 v8 h-1.75 z M340.18,218 L337.88,219.9 L337.88,221.3 L340.18,219.9 z" fill="#151515"/>
<path shape-rendering="geometricPrecision" d="M346.25,218 h1.75 v8 h-1.75 z M346.3,218 L344,219.9 L344,221.3 L346.3,219.9 z" fill="#151515"/>
<path shape-rendering="geometricPrecision" d="M277.93,253.3 h1.75 v8 h-1.75 z M277.98,253.3 L275.68,255.2 L275.68,256.6 L277.98,255.2 z" fill="#151515"/>
<text x="284.26" y="261.3" text-anchor="middle" style="font-family:'Liberation Sans',sans-serif;font-weight:bold;font-size:11px" fill="#151515">2</text>
<path shape-rendering="geometricPrecision" d="M206.43,294.5 h1.75 v8 h-1.75 z M206.48,294.5 L204.18,296.4 L204.18,297.8 L206.48,296.4 z" fill="#151515"/>
<text x="212.76" y="302.5" text-anchor="middle" style="font-family:'Liberation Sans',sans-serif;font-weight:bold;font-size:11px" fill="#151515">3</text>
<path shape-rendering="geometricPrecision" d="M218.23,449.8 h1.75 v8 h-1.75 z M218.28,449.8 L215.98,451.7 L215.98,453.1 L218.28,451.7 z" fill="#151515"/>
<text x="224.56" y="457.8" text-anchor="middle" style="font-family:'Liberation Sans',sans-serif;font-weight:bold;font-size:11px" fill="#151515">4</text>
<path shape-rendering="geometricPrecision" d="M127.73,340 h1.75 v8 h-1.75 z M127.78,340 L125.48,341.9 L125.48,343.3 L127.78,341.9 z" fill="#151515"/>
<text x="134.06" y="348" text-anchor="middle" style="font-family:'Liberation Sans',sans-serif;font-weight:bold;font-size:11px" fill="#151515">5</text>
<path shape-rendering="geometricPrecision" d="M76.43,370.2 h1.75 v8 h-1.75 z M76.48,370.2 L74.18,372.1 L74.18,373.5 L76.48,372.1 z" fill="#151515"/>
<text x="82.76" y="378.2" text-anchor="middle" style="font-family:'Liberation Sans',sans-serif;font-weight:bold;font-size:11px" fill="#151515">6</text>
<path shape-rendering="geometricPrecision" d="M643.13,237.2 h1.75 v8 h-1.75 z M643.18,237.2 L640.88,239.1 L640.88,240.5 L643.18,239.1 z" fill="#151515"/>
<text x="649.46" y="245.2" text-anchor="middle" style="font-family:'Liberation Sans',sans-serif;font-weight:bold;font-size:11px" fill="#151515">7</text>
<line x1="530.5" y1="76" x2="530.5" y2="88" stroke="#a0a0a0" stroke-width="1" />
<line x1="531.5" y1="76" x2="531.5" y2="88" stroke="#a0a0a0" stroke-width="1" stroke-dasharray="1 2"/>
<line x1="245.5" y1="174.5" x2="208" y2="174.5" stroke="#a0a0a0" stroke-width="1" />
<line x1="245.5" y1="175.5" x2="208" y2="175.5" stroke="#a0a0a0" stroke-width="1" stroke-dasharray="1 2"/>
<path shape-rendering="geometricPrecision" d="M210.5,172.8 L210.5,176.2 L205.5,174.5 Z" fill="#111"/>
<line x1="644.5" y1="105" x2="644.5" y2="127.5" stroke="#a5a5a5" stroke-width="1" />
<path shape-rendering="geometricPrecision" d="M642.5,122.5 L645.9,122.5 L644.2,127.5 Z" fill="#111"/>
<line x1="626.5" y1="105" x2="626.5" y2="133.5" stroke="#a0a0a0" stroke-width="1" />
<line x1="627.5" y1="105" x2="627.5" y2="133.5" stroke="#a0a0a0" stroke-width="1" stroke-dasharray="1 2"/>
<path shape-rendering="geometricPrecision" d="M625,128.5 L628.4,128.5 L626.7,133.5 Z" fill="#111"/>
<line x1="608.5" y1="179" x2="608.5" y2="174" stroke="#a0a0a0" stroke-width="1" />
<path shape-rendering="geometricPrecision" d="M607.2,175.5 L610.6,175.5 L608.9,170.5 Z" fill="#111"/>
<line x1="546.5" y1="112" x2="546.5" y2="147.5" stroke="#a0a0a0" stroke-width="1" />
<line x1="547.5" y1="112" x2="547.5" y2="147.5" stroke="#a0a0a0" stroke-width="1" stroke-dasharray="1 2"/>
<path shape-rendering="geometricPrecision" d="M544.6,142.5 L548,142.5 L546.3,147.5 Z" fill="#111"/>
<line x1="509.5" y1="134" x2="509.5" y2="194.5" stroke="#a0a0a0" stroke-width="1" />
<line x1="510.5" y1="134" x2="510.5" y2="194.5" stroke="#a0a0a0" stroke-width="1" stroke-dasharray="1 2"/>
<path shape-rendering="geometricPrecision" d="M508.1,189.5 L511.5,189.5 L509.8,194.5 Z" fill="#111"/>
<line x1="486.5" y1="148" x2="486.5" y2="207" stroke="#a5a5a5" stroke-width="1" />
<path shape-rendering="geometricPrecision" d="M484.5,202 L487.9,202 L486.2,207 Z" fill="#111"/>
<line x1="466.5" y1="159" x2="466.5" y2="228" stroke="#a0a0a0" stroke-width="1" />
<line x1="467.5" y1="159" x2="467.5" y2="228" stroke="#a0a0a0" stroke-width="1" stroke-dasharray="1 2"/>
<path shape-rendering="geometricPrecision" d="M464.9,223 L468.3,223 L466.6,228 Z" fill="#111"/>
<line x1="397.5" y1="198" x2="397.5" y2="243" stroke="#a5a5a5" stroke-width="1" />
<path shape-rendering="geometricPrecision" d="M395.8,238 L399.2,238 L397.5,243 Z" fill="#111"/>
<line x1="343.5" y1="230" x2="343.5" y2="301.5" stroke="#a5a5a5" stroke-width="1" />
<path shape-rendering="geometricPrecision" d="M341.7,296.5 L345.1,296.5 L343.4,301.5 Z" fill="#111"/>
<line x1="281.5" y1="265" x2="281.5" y2="302" stroke="#a0a0a0" stroke-width="1" />
<line x1="282.5" y1="265" x2="282.5" y2="302" stroke="#a0a0a0" stroke-width="1" stroke-dasharray="1 2"/>
<path shape-rendering="geometricPrecision" d="M279.5,297 L282.9,297 L281.2,302 Z" fill="#111"/>
<line x1="209.5" y1="306" x2="209.5" y2="337" stroke="#a5a5a5" stroke-width="1" />
<path shape-rendering="geometricPrecision" d="M207.9,332 L211.3,332 L209.6,337 Z" fill="#111"/>
<line x1="221.5" y1="446" x2="221.5" y2="424" stroke="#a5a5a5" stroke-width="1" />
<path shape-rendering="geometricPrecision" d="M219.3,425 L222.7,425 L221,420 Z" fill="#111"/>
<line x1="130.5" y1="352" x2="130.5" y2="385" stroke="#a0a0a0" stroke-width="1" />
<line x1="131.5" y1="352" x2="131.5" y2="385" stroke="#a0a0a0" stroke-width="1" stroke-dasharray="1 2"/>
<path shape-rendering="geometricPrecision" d="M129.1,380 L132.5,380 L130.8,385 Z" fill="#111"/>
<line x1="79.5" y1="382" x2="79.5" y2="443.5" stroke="#a5a5a5" stroke-width="1" />
<path shape-rendering="geometricPrecision" d="M78,438.5 L81.4,438.5 L79.7,443.5 Z" fill="#111"/>
<line x1="646.5" y1="233" x2="646.5" y2="209" stroke="#a5a5a5" stroke-width="1" />
<path shape-rendering="geometricPrecision" d="M644.7,210.5 L648.1,210.5 L646.4,205.5 Z" fill="#111"/>
<text x="649" y="609.2" style="font-family:'Liberation Sans',sans-serif;font-size:8.3px" fill="#333">T3D11E02</text>
</svg>
</body></html>
